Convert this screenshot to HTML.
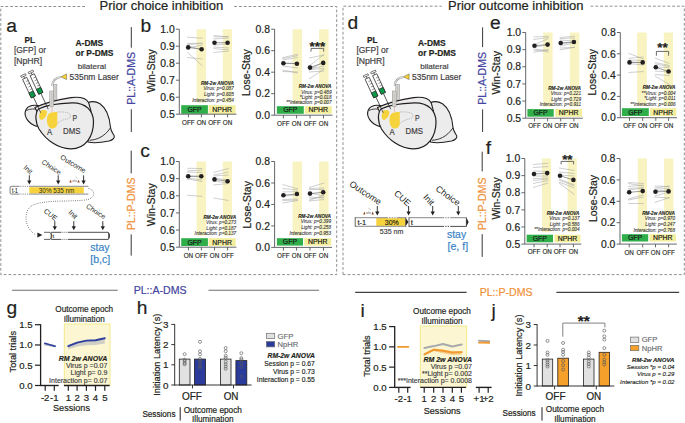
<!DOCTYPE html><html><head><meta charset="utf-8"><style>html,body{margin:0;padding:0;background:#fff;overflow:hidden;}svg{display:block;}text{font-family:"Liberation Sans", sans-serif;}</style></head><body>
<svg width="685" height="423" viewBox="0 0 685 423">
<rect width="685" height="423" fill="#fff"/>
<path d="M 85 6.5 L 0.8 6.5 L 0.8 274.6 L 336.7 274.6 L 336.7 6.5 L 232.3 6.5" stroke="#808285" stroke-width="0.9" stroke-dasharray="2.8 2" fill="none"/>
<path d="M 343 274.6 L 343 6.2 L 441.7 6.2" stroke="#808285" stroke-width="0.9" stroke-dasharray="2.8 2" fill="none"/>
<path d="M 590.6 6.2 L 684.3 6.2 L 684.3 274.6 L 343 274.6" stroke="#808285" stroke-width="0.9" stroke-dasharray="2.8 2" fill="none"/>
<text x="99.60" y="10.30" font-size="12.3" text-anchor="start" fill="#231f20" font-weight="normal" font-style="normal" textLength="123.60" lengthAdjust="spacingAndGlyphs"  stroke="#231f20" stroke-width="0.200">Prior choice inhibition</text>
<text x="448.00" y="10.30" font-size="12.3" text-anchor="start" fill="#231f20" font-weight="normal" font-style="normal" textLength="135.50" lengthAdjust="spacingAndGlyphs"  stroke="#231f20" stroke-width="0.200">Prior outcome inhibition</text>
<rect x="196.60" y="29.20" width="9.40" height="73.50" fill="#f8f3c1" stroke="none" stroke-width="0" />
<rect x="222.80" y="29.20" width="9.20" height="73.50" fill="#f8f3c1" stroke="none" stroke-width="0" />
<line x1="187.20" y1="37.20" x2="202.60" y2="38.20" stroke="#9d9fa2" stroke-width="0.5" />
<line x1="187.20" y1="43.60" x2="202.60" y2="43.00" stroke="#9d9fa2" stroke-width="0.5" />
<line x1="187.20" y1="44.50" x2="202.60" y2="43.50" stroke="#9d9fa2" stroke-width="0.5" />
<line x1="187.20" y1="46.00" x2="202.60" y2="49.50" stroke="#9d9fa2" stroke-width="0.5" />
<line x1="187.20" y1="48.00" x2="202.60" y2="45.00" stroke="#9d9fa2" stroke-width="0.5" />
<line x1="187.20" y1="52.20" x2="202.60" y2="66.00" stroke="#9d9fa2" stroke-width="0.5" />
<line x1="187.20" y1="57.50" x2="202.60" y2="59.00" stroke="#9d9fa2" stroke-width="0.5" />
<line x1="213.50" y1="35.50" x2="228.60" y2="37.00" stroke="#9d9fa2" stroke-width="0.5" />
<line x1="213.50" y1="37.00" x2="228.60" y2="36.50" stroke="#9d9fa2" stroke-width="0.5" />
<line x1="213.50" y1="39.00" x2="228.60" y2="38.00" stroke="#9d9fa2" stroke-width="0.5" />
<line x1="213.50" y1="45.00" x2="228.60" y2="44.00" stroke="#9d9fa2" stroke-width="0.5" />
<line x1="213.50" y1="47.00" x2="228.60" y2="48.00" stroke="#9d9fa2" stroke-width="0.5" />
<line x1="213.50" y1="48.50" x2="228.60" y2="50.00" stroke="#9d9fa2" stroke-width="0.5" />
<line x1="213.50" y1="52.50" x2="228.60" y2="51.00" stroke="#9d9fa2" stroke-width="0.5" />
<line x1="188.20" y1="47.40" x2="201.60" y2="49.30" stroke="#58595b" stroke-width="0.6" />
<circle cx="188.20" cy="47.40" r="2.3" fill="#231f20"/>
<circle cx="201.60" cy="49.30" r="2.3" fill="#231f20"/>
<line x1="214.50" y1="42.70" x2="227.60" y2="42.70" stroke="#58595b" stroke-width="0.6" />
<circle cx="214.50" cy="42.70" r="2.3" fill="#231f20"/>
<circle cx="227.60" cy="42.70" r="2.3" fill="#231f20"/>
<text x="233.80" y="84.60" font-size="4.7" text-anchor="end" fill="#231f20" font-weight="bold" font-style="italic"  stroke="#231f20" stroke-width="0.104">RM-2w ANOVA</text>
<text x="233.80" y="90.40" font-size="4.7" text-anchor="end" fill="#3a3a3c" font-weight="normal" font-style="italic"  stroke="#3a3a3c" stroke-width="0.104">Virus: p=0.087</text>
<text x="233.80" y="96.00" font-size="4.7" text-anchor="end" fill="#3a3a3c" font-weight="normal" font-style="italic"  stroke="#3a3a3c" stroke-width="0.104">Light: p=0.605</text>
<text x="233.80" y="101.70" font-size="4.7" text-anchor="end" fill="#3a3a3c" font-weight="normal" font-style="italic"  stroke="#3a3a3c" stroke-width="0.104">Interaction: p=0.454</text>
<rect x="181.20" y="105.20" width="26.70" height="8.60" fill="#2fae4a" stroke="none" stroke-width="0" />
<rect x="208.60" y="105.20" width="27.00" height="8.60" fill="#f3ee9c" stroke="none" stroke-width="0" />
<text x="194.55" y="112.40" font-size="6.9" text-anchor="middle" fill="#1a1a1a" font-weight="normal" font-style="normal" stroke="#1a1a1a" stroke-width="0.2">GFP</text>
<text x="222.10" y="112.40" font-size="6.9" text-anchor="middle" fill="#1a1a1a" font-weight="normal" font-style="normal" stroke="#1a1a1a" stroke-width="0.2">NPHR</text>
<line x1="179.30" y1="29.20" x2="179.30" y2="114.20" stroke="#55565a" stroke-width="0.9" />
<line x1="175.90" y1="29.20" x2="179.30" y2="29.20" stroke="#55565a" stroke-width="0.9" />
<text x="174.70" y="32.90" font-size="10.4" text-anchor="end" fill="#231f20" font-weight="normal" font-style="normal"  stroke="#231f20" stroke-width="0.200">1.0</text>
<line x1="175.90" y1="46.20" x2="179.30" y2="46.20" stroke="#55565a" stroke-width="0.9" />
<text x="174.70" y="49.90" font-size="10.4" text-anchor="end" fill="#231f20" font-weight="normal" font-style="normal"  stroke="#231f20" stroke-width="0.200">0.9</text>
<line x1="175.90" y1="63.20" x2="179.30" y2="63.20" stroke="#55565a" stroke-width="0.9" />
<text x="174.70" y="66.90" font-size="10.4" text-anchor="end" fill="#231f20" font-weight="normal" font-style="normal"  stroke="#231f20" stroke-width="0.200">0.8</text>
<line x1="175.90" y1="80.20" x2="179.30" y2="80.20" stroke="#55565a" stroke-width="0.9" />
<text x="174.70" y="83.90" font-size="10.4" text-anchor="end" fill="#231f20" font-weight="normal" font-style="normal"  stroke="#231f20" stroke-width="0.200">0.7</text>
<line x1="175.90" y1="97.20" x2="179.30" y2="97.20" stroke="#55565a" stroke-width="0.9" />
<text x="174.70" y="100.90" font-size="10.4" text-anchor="end" fill="#231f20" font-weight="normal" font-style="normal"  stroke="#231f20" stroke-width="0.200">0.6</text>
<line x1="175.90" y1="114.20" x2="179.30" y2="114.20" stroke="#55565a" stroke-width="0.9" />
<text x="174.70" y="117.90" font-size="10.4" text-anchor="end" fill="#231f20" font-weight="normal" font-style="normal"  stroke="#231f20" stroke-width="0.200">0.5</text>
<line x1="179.30" y1="114.20" x2="236.40" y2="114.20" stroke="#55565a" stroke-width="0.9" />
<line x1="188.40" y1="114.20" x2="188.40" y2="117.40" stroke="#55565a" stroke-width="0.9" />
<line x1="201.40" y1="114.20" x2="201.40" y2="117.40" stroke="#55565a" stroke-width="0.9" />
<line x1="214.50" y1="114.20" x2="214.50" y2="117.40" stroke="#55565a" stroke-width="0.9" />
<line x1="227.60" y1="114.20" x2="227.60" y2="117.40" stroke="#55565a" stroke-width="0.9" />
<text x="188.40" y="124.70" font-size="6.3" text-anchor="middle" fill="#231f20" font-weight="normal" font-style="normal"  stroke="#231f20" stroke-width="0.140">OFF</text>
<text x="201.40" y="124.70" font-size="6.3" text-anchor="middle" fill="#231f20" font-weight="normal" font-style="normal"  stroke="#231f20" stroke-width="0.140">ON</text>
<text x="214.50" y="124.70" font-size="6.3" text-anchor="middle" fill="#231f20" font-weight="normal" font-style="normal"  stroke="#231f20" stroke-width="0.140">OFF</text>
<text x="227.60" y="124.70" font-size="6.3" text-anchor="middle" fill="#231f20" font-weight="normal" font-style="normal"  stroke="#231f20" stroke-width="0.140">ON</text>
<rect x="292.60" y="29.20" width="9.40" height="74.50" fill="#f8f3c1" stroke="none" stroke-width="0" />
<rect x="319.10" y="29.20" width="9.50" height="74.50" fill="#f8f3c1" stroke="none" stroke-width="0" />
<line x1="282.40" y1="57.70" x2="297.90" y2="54.20" stroke="#9d9fa2" stroke-width="0.5" />
<line x1="282.40" y1="58.80" x2="297.90" y2="55.50" stroke="#9d9fa2" stroke-width="0.5" />
<line x1="282.40" y1="60.00" x2="297.90" y2="57.50" stroke="#9d9fa2" stroke-width="0.5" />
<line x1="282.40" y1="63.50" x2="297.90" y2="63.00" stroke="#9d9fa2" stroke-width="0.5" />
<line x1="282.40" y1="66.00" x2="297.90" y2="68.00" stroke="#9d9fa2" stroke-width="0.5" />
<line x1="282.40" y1="71.50" x2="297.90" y2="72.00" stroke="#9d9fa2" stroke-width="0.5" />
<line x1="282.40" y1="70.00" x2="297.90" y2="73.00" stroke="#9d9fa2" stroke-width="0.5" />
<line x1="309.00" y1="58.00" x2="324.20" y2="55.00" stroke="#9d9fa2" stroke-width="0.5" />
<line x1="309.00" y1="66.00" x2="324.20" y2="54.50" stroke="#9d9fa2" stroke-width="0.5" />
<line x1="309.00" y1="69.00" x2="324.20" y2="66.00" stroke="#9d9fa2" stroke-width="0.5" />
<line x1="309.00" y1="69.50" x2="324.20" y2="68.50" stroke="#9d9fa2" stroke-width="0.5" />
<line x1="309.00" y1="70.50" x2="324.20" y2="61.00" stroke="#9d9fa2" stroke-width="0.5" />
<line x1="309.00" y1="72.00" x2="324.20" y2="71.00" stroke="#9d9fa2" stroke-width="0.5" />
<line x1="309.00" y1="79.00" x2="324.20" y2="69.00" stroke="#9d9fa2" stroke-width="0.5" />
<line x1="283.40" y1="63.20" x2="296.90" y2="63.70" stroke="#58595b" stroke-width="0.6" />
<circle cx="283.40" cy="63.20" r="2.3" fill="#231f20"/>
<circle cx="296.90" cy="63.70" r="2.3" fill="#231f20"/>
<line x1="310.00" y1="67.60" x2="323.20" y2="62.90" stroke="#58595b" stroke-width="0.6" />
<circle cx="310.00" cy="67.60" r="2.3" fill="#231f20"/>
<circle cx="323.20" cy="62.90" r="2.3" fill="#231f20"/>
<text x="331.50" y="87.90" font-size="4.7" text-anchor="end" fill="#231f20" font-weight="bold" font-style="italic"  stroke="#231f20" stroke-width="0.104">RM-2w ANOVA</text>
<text x="331.50" y="93.50" font-size="4.7" text-anchor="end" fill="#3a3a3c" font-weight="normal" font-style="italic"  stroke="#3a3a3c" stroke-width="0.104">Virus: p=0.489</text>
<text x="331.50" y="99.00" font-size="4.7" text-anchor="end" fill="#3a3a3c" font-weight="normal" font-style="italic"  stroke="#3a3a3c" stroke-width="0.104">*Light: p=0.018</text>
<text x="331.50" y="104.30" font-size="4.7" text-anchor="end" fill="#3a3a3c" font-weight="normal" font-style="italic"  stroke="#3a3a3c" stroke-width="0.104">**Interaction: p=0.007</text>
<rect x="276.90" y="106.20" width="26.90" height="7.60" fill="#2fae4a" stroke="none" stroke-width="0" />
<rect x="304.70" y="106.20" width="27.00" height="7.60" fill="#f3ee9c" stroke="none" stroke-width="0" />
<text x="290.35" y="112.40" font-size="6.9" text-anchor="middle" fill="#1a1a1a" font-weight="normal" font-style="normal" stroke="#1a1a1a" stroke-width="0.2">GFP</text>
<text x="318.20" y="112.40" font-size="6.9" text-anchor="middle" fill="#1a1a1a" font-weight="normal" font-style="normal" stroke="#1a1a1a" stroke-width="0.2">NPHR</text>
<line x1="274.60" y1="29.20" x2="274.60" y2="115.20" stroke="#55565a" stroke-width="0.9" />
<line x1="271.20" y1="29.20" x2="274.60" y2="29.20" stroke="#55565a" stroke-width="0.9" />
<text x="270.00" y="32.90" font-size="10.4" text-anchor="end" fill="#231f20" font-weight="normal" font-style="normal"  stroke="#231f20" stroke-width="0.200">0.8</text>
<line x1="271.20" y1="50.70" x2="274.60" y2="50.70" stroke="#55565a" stroke-width="0.9" />
<text x="270.00" y="54.40" font-size="10.4" text-anchor="end" fill="#231f20" font-weight="normal" font-style="normal"  stroke="#231f20" stroke-width="0.200">0.6</text>
<line x1="271.20" y1="72.20" x2="274.60" y2="72.20" stroke="#55565a" stroke-width="0.9" />
<text x="270.00" y="75.90" font-size="10.4" text-anchor="end" fill="#231f20" font-weight="normal" font-style="normal"  stroke="#231f20" stroke-width="0.200">0.4</text>
<line x1="271.20" y1="93.70" x2="274.60" y2="93.70" stroke="#55565a" stroke-width="0.9" />
<text x="270.00" y="97.40" font-size="10.4" text-anchor="end" fill="#231f20" font-weight="normal" font-style="normal"  stroke="#231f20" stroke-width="0.200">0.2</text>
<line x1="271.20" y1="115.20" x2="274.60" y2="115.20" stroke="#55565a" stroke-width="0.9" />
<text x="270.00" y="118.90" font-size="10.4" text-anchor="end" fill="#231f20" font-weight="normal" font-style="normal"  stroke="#231f20" stroke-width="0.200">0.0</text>
<line x1="274.60" y1="115.20" x2="332.50" y2="115.20" stroke="#55565a" stroke-width="0.9" />
<line x1="283.40" y1="115.20" x2="283.40" y2="118.40" stroke="#55565a" stroke-width="0.9" />
<line x1="296.60" y1="115.20" x2="296.60" y2="118.40" stroke="#55565a" stroke-width="0.9" />
<line x1="310.00" y1="115.20" x2="310.00" y2="118.40" stroke="#55565a" stroke-width="0.9" />
<line x1="323.50" y1="115.20" x2="323.50" y2="118.40" stroke="#55565a" stroke-width="0.9" />
<text x="283.40" y="125.50" font-size="6.3" text-anchor="middle" fill="#231f20" font-weight="normal" font-style="normal"  stroke="#231f20" stroke-width="0.140">OFF</text>
<text x="296.60" y="125.50" font-size="6.3" text-anchor="middle" fill="#231f20" font-weight="normal" font-style="normal"  stroke="#231f20" stroke-width="0.140">ON</text>
<text x="310.00" y="125.50" font-size="6.3" text-anchor="middle" fill="#231f20" font-weight="normal" font-style="normal"  stroke="#231f20" stroke-width="0.140">OFF</text>
<text x="323.50" y="125.50" font-size="6.3" text-anchor="middle" fill="#231f20" font-weight="normal" font-style="normal"  stroke="#231f20" stroke-width="0.140">ON</text>
<polyline points="311.00,51.60 311.00,48.40 323.70,48.40 323.70,51.60" fill="none" stroke="#58595b" stroke-width="0.9"/>
<text x="317.35" y="51.00" font-size="13.4" text-anchor="middle" fill="#231f20" font-weight="bold" font-style="normal"  stroke="#231f20" stroke-width="0.200">***</text>
<rect x="196.60" y="161.50" width="9.40" height="74.20" fill="#f8f3c1" stroke="none" stroke-width="0" />
<rect x="222.80" y="161.50" width="9.20" height="74.20" fill="#f8f3c1" stroke="none" stroke-width="0" />
<line x1="187.20" y1="168.30" x2="202.30" y2="168.50" stroke="#9d9fa2" stroke-width="0.5" />
<line x1="187.20" y1="171.00" x2="202.30" y2="170.00" stroke="#9d9fa2" stroke-width="0.5" />
<line x1="187.20" y1="172.00" x2="202.30" y2="172.50" stroke="#9d9fa2" stroke-width="0.5" />
<line x1="187.20" y1="176.00" x2="202.30" y2="177.00" stroke="#9d9fa2" stroke-width="0.5" />
<line x1="187.20" y1="178.00" x2="202.30" y2="180.00" stroke="#9d9fa2" stroke-width="0.5" />
<line x1="187.20" y1="179.00" x2="202.30" y2="181.50" stroke="#9d9fa2" stroke-width="0.5" />
<line x1="187.20" y1="195.20" x2="202.30" y2="196.40" stroke="#9d9fa2" stroke-width="0.5" />
<line x1="213.50" y1="172.50" x2="228.60" y2="168.50" stroke="#9d9fa2" stroke-width="0.5" />
<line x1="213.50" y1="175.00" x2="228.60" y2="172.00" stroke="#9d9fa2" stroke-width="0.5" />
<line x1="213.50" y1="176.00" x2="228.60" y2="175.00" stroke="#9d9fa2" stroke-width="0.5" />
<line x1="213.50" y1="178.00" x2="228.60" y2="180.00" stroke="#9d9fa2" stroke-width="0.5" />
<line x1="213.50" y1="181.00" x2="228.60" y2="183.00" stroke="#9d9fa2" stroke-width="0.5" />
<line x1="213.50" y1="185.00" x2="228.60" y2="183.50" stroke="#9d9fa2" stroke-width="0.5" />
<line x1="213.50" y1="198.00" x2="228.60" y2="200.50" stroke="#9d9fa2" stroke-width="0.5" />
<line x1="188.20" y1="176.20" x2="201.30" y2="176.20" stroke="#58595b" stroke-width="0.6" />
<circle cx="188.20" cy="176.20" r="2.3" fill="#231f20"/>
<circle cx="201.30" cy="176.20" r="2.3" fill="#231f20"/>
<line x1="214.50" y1="179.40" x2="227.60" y2="181.20" stroke="#58595b" stroke-width="0.6" />
<circle cx="214.50" cy="179.40" r="2.3" fill="#231f20"/>
<circle cx="227.60" cy="181.20" r="2.3" fill="#231f20"/>
<text x="236.20" y="218.50" font-size="4.7" text-anchor="end" fill="#231f20" font-weight="bold" font-style="italic"  stroke="#231f20" stroke-width="0.104">RM-2w ANOVA</text>
<text x="236.20" y="224.10" font-size="4.7" text-anchor="end" fill="#3a3a3c" font-weight="normal" font-style="italic"  stroke="#3a3a3c" stroke-width="0.104">Virus: p=0.273</text>
<text x="236.20" y="229.70" font-size="4.7" text-anchor="end" fill="#3a3a3c" font-weight="normal" font-style="italic"  stroke="#3a3a3c" stroke-width="0.104">Light: p=0.187</text>
<text x="236.20" y="235.30" font-size="4.7" text-anchor="end" fill="#3a3a3c" font-weight="normal" font-style="italic"  stroke="#3a3a3c" stroke-width="0.104">Interaction: p=0.137</text>
<rect x="181.20" y="238.20" width="26.70" height="7.80" fill="#2fae4a" stroke="none" stroke-width="0" />
<rect x="208.60" y="238.20" width="27.00" height="7.80" fill="#f3ee9c" stroke="none" stroke-width="0" />
<text x="194.55" y="244.60" font-size="6.9" text-anchor="middle" fill="#1a1a1a" font-weight="normal" font-style="normal" stroke="#1a1a1a" stroke-width="0.2">GFP</text>
<text x="222.10" y="244.60" font-size="6.9" text-anchor="middle" fill="#1a1a1a" font-weight="normal" font-style="normal" stroke="#1a1a1a" stroke-width="0.2">NPHR</text>
<line x1="179.30" y1="161.50" x2="179.30" y2="247.20" stroke="#55565a" stroke-width="0.9" />
<line x1="175.90" y1="161.50" x2="179.30" y2="161.50" stroke="#55565a" stroke-width="0.9" />
<text x="174.70" y="165.20" font-size="10.4" text-anchor="end" fill="#231f20" font-weight="normal" font-style="normal"  stroke="#231f20" stroke-width="0.200">1.0</text>
<line x1="175.90" y1="178.64" x2="179.30" y2="178.64" stroke="#55565a" stroke-width="0.9" />
<text x="174.70" y="182.34" font-size="10.4" text-anchor="end" fill="#231f20" font-weight="normal" font-style="normal"  stroke="#231f20" stroke-width="0.200">0.9</text>
<line x1="175.90" y1="195.78" x2="179.30" y2="195.78" stroke="#55565a" stroke-width="0.9" />
<text x="174.70" y="199.48" font-size="10.4" text-anchor="end" fill="#231f20" font-weight="normal" font-style="normal"  stroke="#231f20" stroke-width="0.200">0.8</text>
<line x1="175.90" y1="212.92" x2="179.30" y2="212.92" stroke="#55565a" stroke-width="0.9" />
<text x="174.70" y="216.62" font-size="10.4" text-anchor="end" fill="#231f20" font-weight="normal" font-style="normal"  stroke="#231f20" stroke-width="0.200">0.7</text>
<line x1="175.90" y1="230.06" x2="179.30" y2="230.06" stroke="#55565a" stroke-width="0.9" />
<text x="174.70" y="233.76" font-size="10.4" text-anchor="end" fill="#231f20" font-weight="normal" font-style="normal"  stroke="#231f20" stroke-width="0.200">0.6</text>
<line x1="175.90" y1="247.20" x2="179.30" y2="247.20" stroke="#55565a" stroke-width="0.9" />
<text x="174.70" y="250.90" font-size="10.4" text-anchor="end" fill="#231f20" font-weight="normal" font-style="normal"  stroke="#231f20" stroke-width="0.200">0.5</text>
<line x1="179.30" y1="247.20" x2="236.40" y2="247.20" stroke="#55565a" stroke-width="0.9" />
<line x1="188.40" y1="247.20" x2="188.40" y2="250.40" stroke="#55565a" stroke-width="0.9" />
<line x1="201.40" y1="247.20" x2="201.40" y2="250.40" stroke="#55565a" stroke-width="0.9" />
<line x1="214.50" y1="247.20" x2="214.50" y2="250.40" stroke="#55565a" stroke-width="0.9" />
<line x1="227.60" y1="247.20" x2="227.60" y2="250.40" stroke="#55565a" stroke-width="0.9" />
<text x="188.40" y="257.70" font-size="6.3" text-anchor="middle" fill="#231f20" font-weight="normal" font-style="normal"  stroke="#231f20" stroke-width="0.140">ON</text>
<text x="201.40" y="257.70" font-size="6.3" text-anchor="middle" fill="#231f20" font-weight="normal" font-style="normal"  stroke="#231f20" stroke-width="0.140">OFF</text>
<text x="214.50" y="257.70" font-size="6.3" text-anchor="middle" fill="#231f20" font-weight="normal" font-style="normal"  stroke="#231f20" stroke-width="0.140">ON</text>
<text x="227.60" y="257.70" font-size="6.3" text-anchor="middle" fill="#231f20" font-weight="normal" font-style="normal"  stroke="#231f20" stroke-width="0.140">OFF</text>
<rect x="292.60" y="161.50" width="9.40" height="74.20" fill="#f8f3c1" stroke="none" stroke-width="0" />
<rect x="319.10" y="161.50" width="9.50" height="74.20" fill="#f8f3c1" stroke="none" stroke-width="0" />
<line x1="282.40" y1="184.50" x2="297.90" y2="188.80" stroke="#9d9fa2" stroke-width="0.5" />
<line x1="282.40" y1="188.50" x2="297.90" y2="190.00" stroke="#9d9fa2" stroke-width="0.5" />
<line x1="282.40" y1="192.00" x2="297.90" y2="191.50" stroke="#9d9fa2" stroke-width="0.5" />
<line x1="282.40" y1="196.00" x2="297.90" y2="195.00" stroke="#9d9fa2" stroke-width="0.5" />
<line x1="282.40" y1="199.50" x2="297.90" y2="199.00" stroke="#9d9fa2" stroke-width="0.5" />
<line x1="282.40" y1="200.50" x2="297.90" y2="200.00" stroke="#9d9fa2" stroke-width="0.5" />
<line x1="282.40" y1="203.00" x2="297.90" y2="200.50" stroke="#9d9fa2" stroke-width="0.5" />
<line x1="309.00" y1="187.50" x2="324.20" y2="183.00" stroke="#9d9fa2" stroke-width="0.5" />
<line x1="309.00" y1="188.50" x2="324.20" y2="188.00" stroke="#9d9fa2" stroke-width="0.5" />
<line x1="309.00" y1="189.50" x2="324.20" y2="189.50" stroke="#9d9fa2" stroke-width="0.5" />
<line x1="309.00" y1="193.00" x2="324.20" y2="196.00" stroke="#9d9fa2" stroke-width="0.5" />
<line x1="309.00" y1="197.00" x2="324.20" y2="198.00" stroke="#9d9fa2" stroke-width="0.5" />
<line x1="309.00" y1="199.00" x2="324.20" y2="197.00" stroke="#9d9fa2" stroke-width="0.5" />
<line x1="309.00" y1="200.50" x2="324.20" y2="195.00" stroke="#9d9fa2" stroke-width="0.5" />
<line x1="309.00" y1="201.00" x2="324.20" y2="199.50" stroke="#9d9fa2" stroke-width="0.5" />
<line x1="283.40" y1="195.20" x2="296.90" y2="194.00" stroke="#58595b" stroke-width="0.6" />
<circle cx="283.40" cy="195.20" r="2.3" fill="#231f20"/>
<circle cx="296.90" cy="194.00" r="2.3" fill="#231f20"/>
<line x1="310.00" y1="193.60" x2="323.20" y2="192.30" stroke="#58595b" stroke-width="0.6" />
<circle cx="310.00" cy="193.60" r="2.3" fill="#231f20"/>
<circle cx="323.20" cy="192.30" r="2.3" fill="#231f20"/>
<text x="331.00" y="217.80" font-size="4.7" text-anchor="end" fill="#231f20" font-weight="bold" font-style="italic"  stroke="#231f20" stroke-width="0.104">RM-2w ANOVA</text>
<text x="331.00" y="223.40" font-size="4.7" text-anchor="end" fill="#3a3a3c" font-weight="normal" font-style="italic"  stroke="#3a3a3c" stroke-width="0.104">Virus: p=0.399</text>
<text x="331.00" y="229.00" font-size="4.7" text-anchor="end" fill="#3a3a3c" font-weight="normal" font-style="italic"  stroke="#3a3a3c" stroke-width="0.104">Light: p=0.258</text>
<text x="331.00" y="234.60" font-size="4.7" text-anchor="end" fill="#3a3a3c" font-weight="normal" font-style="italic"  stroke="#3a3a3c" stroke-width="0.104">Interaction: p=0.953</text>
<rect x="276.90" y="238.20" width="26.10" height="7.40" fill="#2fae4a" stroke="none" stroke-width="0" />
<rect x="304.20" y="238.20" width="27.00" height="7.40" fill="#f3ee9c" stroke="none" stroke-width="0" />
<text x="289.95" y="244.20" font-size="6.9" text-anchor="middle" fill="#1a1a1a" font-weight="normal" font-style="normal" stroke="#1a1a1a" stroke-width="0.2">GFP</text>
<text x="317.70" y="244.20" font-size="6.9" text-anchor="middle" fill="#1a1a1a" font-weight="normal" font-style="normal" stroke="#1a1a1a" stroke-width="0.2">NPHR</text>
<line x1="274.60" y1="161.50" x2="274.60" y2="247.40" stroke="#55565a" stroke-width="0.9" />
<line x1="271.20" y1="161.50" x2="274.60" y2="161.50" stroke="#55565a" stroke-width="0.9" />
<text x="270.00" y="165.20" font-size="10.4" text-anchor="end" fill="#231f20" font-weight="normal" font-style="normal"  stroke="#231f20" stroke-width="0.200">0.8</text>
<line x1="271.20" y1="182.97" x2="274.60" y2="182.97" stroke="#55565a" stroke-width="0.9" />
<text x="270.00" y="186.67" font-size="10.4" text-anchor="end" fill="#231f20" font-weight="normal" font-style="normal"  stroke="#231f20" stroke-width="0.200">0.6</text>
<line x1="271.20" y1="204.45" x2="274.60" y2="204.45" stroke="#55565a" stroke-width="0.9" />
<text x="270.00" y="208.15" font-size="10.4" text-anchor="end" fill="#231f20" font-weight="normal" font-style="normal"  stroke="#231f20" stroke-width="0.200">0.4</text>
<line x1="271.20" y1="225.93" x2="274.60" y2="225.93" stroke="#55565a" stroke-width="0.9" />
<text x="270.00" y="229.62" font-size="10.4" text-anchor="end" fill="#231f20" font-weight="normal" font-style="normal"  stroke="#231f20" stroke-width="0.200">0.2</text>
<line x1="271.20" y1="247.40" x2="274.60" y2="247.40" stroke="#55565a" stroke-width="0.9" />
<text x="270.00" y="251.10" font-size="10.4" text-anchor="end" fill="#231f20" font-weight="normal" font-style="normal"  stroke="#231f20" stroke-width="0.200">0.0</text>
<line x1="274.60" y1="247.40" x2="332.00" y2="247.40" stroke="#55565a" stroke-width="0.9" />
<line x1="283.40" y1="247.40" x2="283.40" y2="250.60" stroke="#55565a" stroke-width="0.9" />
<line x1="296.60" y1="247.40" x2="296.60" y2="250.60" stroke="#55565a" stroke-width="0.9" />
<line x1="310.00" y1="247.40" x2="310.00" y2="250.60" stroke="#55565a" stroke-width="0.9" />
<line x1="323.50" y1="247.40" x2="323.50" y2="250.60" stroke="#55565a" stroke-width="0.9" />
<text x="283.40" y="257.70" font-size="6.3" text-anchor="middle" fill="#231f20" font-weight="normal" font-style="normal"  stroke="#231f20" stroke-width="0.140">OFF</text>
<text x="296.60" y="257.70" font-size="6.3" text-anchor="middle" fill="#231f20" font-weight="normal" font-style="normal"  stroke="#231f20" stroke-width="0.140">ON</text>
<text x="310.00" y="257.70" font-size="6.3" text-anchor="middle" fill="#231f20" font-weight="normal" font-style="normal"  stroke="#231f20" stroke-width="0.140">OFF</text>
<text x="323.50" y="257.70" font-size="6.3" text-anchor="middle" fill="#231f20" font-weight="normal" font-style="normal"  stroke="#231f20" stroke-width="0.140">ON</text>
<rect x="543.10" y="32.50" width="9.50" height="74.10" fill="#f8f3c1" stroke="none" stroke-width="0" />
<rect x="569.80" y="32.50" width="9.50" height="74.10" fill="#f8f3c1" stroke="none" stroke-width="0" />
<line x1="533.50" y1="37.00" x2="548.60" y2="36.30" stroke="#9d9fa2" stroke-width="0.5" />
<line x1="533.50" y1="39.50" x2="548.60" y2="37.50" stroke="#9d9fa2" stroke-width="0.5" />
<line x1="533.50" y1="45.00" x2="548.60" y2="38.50" stroke="#9d9fa2" stroke-width="0.5" />
<line x1="533.50" y1="47.00" x2="548.60" y2="45.00" stroke="#9d9fa2" stroke-width="0.5" />
<line x1="533.50" y1="49.00" x2="548.60" y2="50.50" stroke="#9d9fa2" stroke-width="0.5" />
<line x1="533.50" y1="52.30" x2="548.60" y2="49.50" stroke="#9d9fa2" stroke-width="0.5" />
<line x1="533.50" y1="50.00" x2="548.60" y2="52.00" stroke="#9d9fa2" stroke-width="0.5" />
<line x1="559.70" y1="37.50" x2="574.90" y2="36.20" stroke="#9d9fa2" stroke-width="0.5" />
<line x1="559.70" y1="38.50" x2="574.90" y2="38.00" stroke="#9d9fa2" stroke-width="0.5" />
<line x1="559.70" y1="40.00" x2="574.90" y2="41.00" stroke="#9d9fa2" stroke-width="0.5" />
<line x1="559.70" y1="44.00" x2="574.90" y2="42.00" stroke="#9d9fa2" stroke-width="0.5" />
<line x1="559.70" y1="46.00" x2="574.90" y2="43.00" stroke="#9d9fa2" stroke-width="0.5" />
<line x1="559.70" y1="48.00" x2="574.90" y2="47.50" stroke="#9d9fa2" stroke-width="0.5" />
<line x1="559.70" y1="50.00" x2="574.90" y2="47.00" stroke="#9d9fa2" stroke-width="0.5" />
<line x1="534.50" y1="45.70" x2="547.60" y2="44.60" stroke="#58595b" stroke-width="0.6" />
<circle cx="534.50" cy="45.70" r="2.3" fill="#231f20"/>
<circle cx="547.60" cy="44.60" r="2.3" fill="#231f20"/>
<line x1="560.70" y1="43.00" x2="573.90" y2="42.00" stroke="#58595b" stroke-width="0.6" />
<circle cx="560.70" cy="43.00" r="2.3" fill="#231f20"/>
<circle cx="573.90" cy="42.00" r="2.3" fill="#231f20"/>
<text x="581.00" y="89.70" font-size="4.7" text-anchor="end" fill="#231f20" font-weight="bold" font-style="italic"  stroke="#231f20" stroke-width="0.104">RM-2w ANOVA</text>
<text x="581.00" y="95.40" font-size="4.7" text-anchor="end" fill="#3a3a3c" font-weight="normal" font-style="italic"  stroke="#3a3a3c" stroke-width="0.104">Virus: p=0.221</text>
<text x="581.00" y="100.90" font-size="4.7" text-anchor="end" fill="#3a3a3c" font-weight="normal" font-style="italic"  stroke="#3a3a3c" stroke-width="0.104">Light: p=0.729</text>
<text x="581.00" y="106.40" font-size="4.7" text-anchor="end" fill="#3a3a3c" font-weight="normal" font-style="italic"  stroke="#3a3a3c" stroke-width="0.104">Interaction: p=0.911</text>
<rect x="527.40" y="109.10" width="26.30" height="7.60" fill="#2fae4a" stroke="none" stroke-width="0" />
<rect x="555.20" y="109.10" width="26.80" height="7.60" fill="#f3ee9c" stroke="none" stroke-width="0" />
<text x="540.55" y="115.30" font-size="6.9" text-anchor="middle" fill="#1a1a1a" font-weight="normal" font-style="normal" stroke="#1a1a1a" stroke-width="0.2">GFP</text>
<text x="568.60" y="115.30" font-size="6.9" text-anchor="middle" fill="#1a1a1a" font-weight="normal" font-style="normal" stroke="#1a1a1a" stroke-width="0.2">NPHR</text>
<line x1="525.70" y1="32.50" x2="525.70" y2="118.20" stroke="#55565a" stroke-width="0.9" />
<line x1="522.30" y1="32.50" x2="525.70" y2="32.50" stroke="#55565a" stroke-width="0.9" />
<text x="521.10" y="36.20" font-size="10.4" text-anchor="end" fill="#231f20" font-weight="normal" font-style="normal"  stroke="#231f20" stroke-width="0.200">1.0</text>
<line x1="522.30" y1="49.64" x2="525.70" y2="49.64" stroke="#55565a" stroke-width="0.9" />
<text x="521.10" y="53.34" font-size="10.4" text-anchor="end" fill="#231f20" font-weight="normal" font-style="normal"  stroke="#231f20" stroke-width="0.200">0.9</text>
<line x1="522.30" y1="66.78" x2="525.70" y2="66.78" stroke="#55565a" stroke-width="0.9" />
<text x="521.10" y="70.48" font-size="10.4" text-anchor="end" fill="#231f20" font-weight="normal" font-style="normal"  stroke="#231f20" stroke-width="0.200">0.8</text>
<line x1="522.30" y1="83.92" x2="525.70" y2="83.92" stroke="#55565a" stroke-width="0.9" />
<text x="521.10" y="87.62" font-size="10.4" text-anchor="end" fill="#231f20" font-weight="normal" font-style="normal"  stroke="#231f20" stroke-width="0.200">0.7</text>
<line x1="522.30" y1="101.06" x2="525.70" y2="101.06" stroke="#55565a" stroke-width="0.9" />
<text x="521.10" y="104.76" font-size="10.4" text-anchor="end" fill="#231f20" font-weight="normal" font-style="normal"  stroke="#231f20" stroke-width="0.200">0.6</text>
<line x1="522.30" y1="118.20" x2="525.70" y2="118.20" stroke="#55565a" stroke-width="0.9" />
<text x="521.10" y="121.90" font-size="10.4" text-anchor="end" fill="#231f20" font-weight="normal" font-style="normal"  stroke="#231f20" stroke-width="0.200">0.5</text>
<line x1="525.70" y1="118.20" x2="582.80" y2="118.20" stroke="#55565a" stroke-width="0.9" />
<line x1="534.50" y1="118.20" x2="534.50" y2="121.40" stroke="#55565a" stroke-width="0.9" />
<line x1="547.60" y1="118.20" x2="547.60" y2="121.40" stroke="#55565a" stroke-width="0.9" />
<line x1="560.70" y1="118.20" x2="560.70" y2="121.40" stroke="#55565a" stroke-width="0.9" />
<line x1="573.90" y1="118.20" x2="573.90" y2="121.40" stroke="#55565a" stroke-width="0.9" />
<text x="534.50" y="128.40" font-size="6.3" text-anchor="middle" fill="#231f20" font-weight="normal" font-style="normal"  stroke="#231f20" stroke-width="0.140">OFF</text>
<text x="547.60" y="128.40" font-size="6.3" text-anchor="middle" fill="#231f20" font-weight="normal" font-style="normal"  stroke="#231f20" stroke-width="0.140">ON</text>
<text x="560.70" y="128.40" font-size="6.3" text-anchor="middle" fill="#231f20" font-weight="normal" font-style="normal"  stroke="#231f20" stroke-width="0.140">OFF</text>
<text x="573.90" y="128.40" font-size="6.3" text-anchor="middle" fill="#231f20" font-weight="normal" font-style="normal"  stroke="#231f20" stroke-width="0.140">ON</text>
<rect x="637.10" y="32.50" width="9.70" height="73.20" fill="#f8f3c1" stroke="none" stroke-width="0" />
<rect x="663.80" y="32.50" width="9.20" height="73.20" fill="#f8f3c1" stroke="none" stroke-width="0" />
<line x1="628.50" y1="53.30" x2="643.70" y2="59.00" stroke="#9d9fa2" stroke-width="0.5" />
<line x1="628.50" y1="58.30" x2="643.70" y2="57.00" stroke="#9d9fa2" stroke-width="0.5" />
<line x1="628.50" y1="60.00" x2="643.70" y2="60.50" stroke="#9d9fa2" stroke-width="0.5" />
<line x1="628.50" y1="62.00" x2="643.70" y2="63.00" stroke="#9d9fa2" stroke-width="0.5" />
<line x1="628.50" y1="63.50" x2="643.70" y2="65.00" stroke="#9d9fa2" stroke-width="0.5" />
<line x1="628.50" y1="72.50" x2="643.70" y2="71.50" stroke="#9d9fa2" stroke-width="0.5" />
<line x1="654.80" y1="58.00" x2="669.60" y2="63.50" stroke="#9d9fa2" stroke-width="0.5" />
<line x1="654.80" y1="62.50" x2="669.60" y2="65.50" stroke="#9d9fa2" stroke-width="0.5" />
<line x1="654.80" y1="64.00" x2="669.60" y2="66.50" stroke="#9d9fa2" stroke-width="0.5" />
<line x1="654.80" y1="67.00" x2="669.60" y2="67.50" stroke="#9d9fa2" stroke-width="0.5" />
<line x1="654.80" y1="71.00" x2="669.60" y2="72.00" stroke="#9d9fa2" stroke-width="0.5" />
<line x1="654.80" y1="74.50" x2="669.60" y2="75.50" stroke="#9d9fa2" stroke-width="0.5" />
<line x1="654.80" y1="76.00" x2="669.60" y2="84.50" stroke="#9d9fa2" stroke-width="0.5" />
<line x1="629.50" y1="62.40" x2="642.70" y2="62.40" stroke="#58595b" stroke-width="0.6" />
<circle cx="629.50" cy="62.40" r="2.3" fill="#231f20"/>
<circle cx="642.70" cy="62.40" r="2.3" fill="#231f20"/>
<line x1="655.80" y1="67.30" x2="668.60" y2="71.50" stroke="#58595b" stroke-width="0.6" />
<circle cx="655.80" cy="67.30" r="2.3" fill="#231f20"/>
<circle cx="668.60" cy="71.50" r="2.3" fill="#231f20"/>
<text x="675.50" y="89.00" font-size="4.7" text-anchor="end" fill="#231f20" font-weight="bold" font-style="italic"  stroke="#231f20" stroke-width="0.104">RM-2w ANOVA</text>
<text x="675.50" y="94.60" font-size="4.7" text-anchor="end" fill="#3a3a3c" font-weight="normal" font-style="italic"  stroke="#3a3a3c" stroke-width="0.104">**Virus: p=0.004</text>
<text x="675.50" y="100.20" font-size="4.7" text-anchor="end" fill="#3a3a3c" font-weight="normal" font-style="italic"  stroke="#3a3a3c" stroke-width="0.104">*Light: p=0.011</text>
<text x="675.50" y="105.80" font-size="4.7" text-anchor="end" fill="#3a3a3c" font-weight="normal" font-style="italic"  stroke="#3a3a3c" stroke-width="0.104">**Interaction: p=0.006</text>
<rect x="621.90" y="108.20" width="26.90" height="7.80" fill="#2fae4a" stroke="none" stroke-width="0" />
<rect x="650.00" y="108.20" width="26.20" height="7.80" fill="#f3ee9c" stroke="none" stroke-width="0" />
<text x="635.35" y="114.60" font-size="6.9" text-anchor="middle" fill="#1a1a1a" font-weight="normal" font-style="normal" stroke="#1a1a1a" stroke-width="0.2">GFP</text>
<text x="663.10" y="114.60" font-size="6.9" text-anchor="middle" fill="#1a1a1a" font-weight="normal" font-style="normal" stroke="#1a1a1a" stroke-width="0.2">NPHR</text>
<line x1="620.30" y1="32.50" x2="620.30" y2="117.70" stroke="#55565a" stroke-width="0.9" />
<line x1="616.90" y1="32.50" x2="620.30" y2="32.50" stroke="#55565a" stroke-width="0.9" />
<text x="615.70" y="36.20" font-size="10.4" text-anchor="end" fill="#231f20" font-weight="normal" font-style="normal"  stroke="#231f20" stroke-width="0.200">0.8</text>
<line x1="616.90" y1="53.80" x2="620.30" y2="53.80" stroke="#55565a" stroke-width="0.9" />
<text x="615.70" y="57.50" font-size="10.4" text-anchor="end" fill="#231f20" font-weight="normal" font-style="normal"  stroke="#231f20" stroke-width="0.200">0.6</text>
<line x1="616.90" y1="75.10" x2="620.30" y2="75.10" stroke="#55565a" stroke-width="0.9" />
<text x="615.70" y="78.80" font-size="10.4" text-anchor="end" fill="#231f20" font-weight="normal" font-style="normal"  stroke="#231f20" stroke-width="0.200">0.4</text>
<line x1="616.90" y1="96.40" x2="620.30" y2="96.40" stroke="#55565a" stroke-width="0.9" />
<text x="615.70" y="100.10" font-size="10.4" text-anchor="end" fill="#231f20" font-weight="normal" font-style="normal"  stroke="#231f20" stroke-width="0.200">0.2</text>
<line x1="616.90" y1="117.70" x2="620.30" y2="117.70" stroke="#55565a" stroke-width="0.9" />
<text x="615.70" y="121.40" font-size="10.4" text-anchor="end" fill="#231f20" font-weight="normal" font-style="normal"  stroke="#231f20" stroke-width="0.200">0.0</text>
<line x1="620.30" y1="117.70" x2="677.00" y2="117.70" stroke="#55565a" stroke-width="0.9" />
<line x1="629.50" y1="117.70" x2="629.50" y2="120.90" stroke="#55565a" stroke-width="0.9" />
<line x1="642.70" y1="117.70" x2="642.70" y2="120.90" stroke="#55565a" stroke-width="0.9" />
<line x1="655.80" y1="117.70" x2="655.80" y2="120.90" stroke="#55565a" stroke-width="0.9" />
<line x1="668.60" y1="117.70" x2="668.60" y2="120.90" stroke="#55565a" stroke-width="0.9" />
<text x="629.50" y="128.40" font-size="6.3" text-anchor="middle" fill="#231f20" font-weight="normal" font-style="normal"  stroke="#231f20" stroke-width="0.140">OFF</text>
<text x="642.70" y="128.40" font-size="6.3" text-anchor="middle" fill="#231f20" font-weight="normal" font-style="normal"  stroke="#231f20" stroke-width="0.140">ON</text>
<text x="655.80" y="128.40" font-size="6.3" text-anchor="middle" fill="#231f20" font-weight="normal" font-style="normal"  stroke="#231f20" stroke-width="0.140">OFF</text>
<text x="668.60" y="128.40" font-size="6.3" text-anchor="middle" fill="#231f20" font-weight="normal" font-style="normal"  stroke="#231f20" stroke-width="0.140">ON</text>
<polyline points="656.40,55.70 656.40,51.40 668.60,51.40 668.60,55.70" fill="none" stroke="#58595b" stroke-width="0.9"/>
<text x="662.50" y="51.80" font-size="13.4" text-anchor="middle" fill="#231f20" font-weight="bold" font-style="normal"  stroke="#231f20" stroke-width="0.200">**</text>
<rect x="542.00" y="158.50" width="9.10" height="73.70" fill="#f8f3c1" stroke="none" stroke-width="0" />
<rect x="567.60" y="158.50" width="9.20" height="73.70" fill="#f8f3c1" stroke="none" stroke-width="0" />
<line x1="533.00" y1="164.50" x2="548.20" y2="163.30" stroke="#9d9fa2" stroke-width="0.5" />
<line x1="533.00" y1="167.50" x2="548.20" y2="166.50" stroke="#9d9fa2" stroke-width="0.5" />
<line x1="533.00" y1="171.00" x2="548.20" y2="171.50" stroke="#9d9fa2" stroke-width="0.5" />
<line x1="533.00" y1="176.00" x2="548.20" y2="176.00" stroke="#9d9fa2" stroke-width="0.5" />
<line x1="533.00" y1="178.50" x2="548.20" y2="178.00" stroke="#9d9fa2" stroke-width="0.5" />
<line x1="533.00" y1="180.50" x2="548.20" y2="179.00" stroke="#9d9fa2" stroke-width="0.5" />
<line x1="533.00" y1="183.50" x2="548.20" y2="180.50" stroke="#9d9fa2" stroke-width="0.5" />
<line x1="533.00" y1="187.50" x2="548.20" y2="183.00" stroke="#9d9fa2" stroke-width="0.5" />
<line x1="559.00" y1="168.00" x2="574.40" y2="170.50" stroke="#9d9fa2" stroke-width="0.5" />
<line x1="559.00" y1="172.00" x2="574.40" y2="173.50" stroke="#9d9fa2" stroke-width="0.5" />
<line x1="559.00" y1="175.00" x2="574.40" y2="176.00" stroke="#9d9fa2" stroke-width="0.5" />
<line x1="559.00" y1="179.00" x2="574.40" y2="185.00" stroke="#9d9fa2" stroke-width="0.5" />
<line x1="559.00" y1="180.00" x2="574.40" y2="186.00" stroke="#9d9fa2" stroke-width="0.5" />
<line x1="559.00" y1="182.00" x2="574.40" y2="188.00" stroke="#9d9fa2" stroke-width="0.5" />
<line x1="559.00" y1="183.00" x2="574.40" y2="194.50" stroke="#9d9fa2" stroke-width="0.5" />
<line x1="534.00" y1="174.00" x2="547.20" y2="173.10" stroke="#58595b" stroke-width="0.6" />
<circle cx="534.00" cy="174.00" r="2.3" fill="#231f20"/>
<circle cx="547.20" cy="173.10" r="2.3" fill="#231f20"/>
<line x1="560.00" y1="175.80" x2="573.40" y2="179.90" stroke="#58595b" stroke-width="0.6" />
<circle cx="560.00" cy="175.80" r="2.3" fill="#231f20"/>
<circle cx="573.40" cy="179.90" r="2.3" fill="#231f20"/>
<text x="579.50" y="214.50" font-size="4.7" text-anchor="end" fill="#231f20" font-weight="bold" font-style="italic"  stroke="#231f20" stroke-width="0.104">RM-2w ANOVA</text>
<text x="579.50" y="220.10" font-size="4.7" text-anchor="end" fill="#3a3a3c" font-weight="normal" font-style="italic"  stroke="#3a3a3c" stroke-width="0.104">Virus: p=0.137</text>
<text x="579.50" y="225.70" font-size="4.7" text-anchor="end" fill="#3a3a3c" font-weight="normal" font-style="italic"  stroke="#3a3a3c" stroke-width="0.104">Light: p=0.586</text>
<text x="579.50" y="231.30" font-size="4.7" text-anchor="end" fill="#3a3a3c" font-weight="normal" font-style="italic"  stroke="#3a3a3c" stroke-width="0.104">**Interaction: p=0.004</text>
<rect x="526.70" y="234.70" width="26.30" height="7.60" fill="#2fae4a" stroke="none" stroke-width="0" />
<rect x="554.50" y="234.70" width="26.00" height="7.60" fill="#f3ee9c" stroke="none" stroke-width="0" />
<text x="539.85" y="240.90" font-size="6.9" text-anchor="middle" fill="#1a1a1a" font-weight="normal" font-style="normal" stroke="#1a1a1a" stroke-width="0.2">GFP</text>
<text x="567.50" y="240.90" font-size="6.9" text-anchor="middle" fill="#1a1a1a" font-weight="normal" font-style="normal" stroke="#1a1a1a" stroke-width="0.2">NPHR</text>
<line x1="524.80" y1="158.50" x2="524.80" y2="244.10" stroke="#55565a" stroke-width="0.9" />
<line x1="521.40" y1="158.50" x2="524.80" y2="158.50" stroke="#55565a" stroke-width="0.9" />
<text x="520.20" y="162.20" font-size="10.4" text-anchor="end" fill="#231f20" font-weight="normal" font-style="normal"  stroke="#231f20" stroke-width="0.200">1.0</text>
<line x1="521.40" y1="175.62" x2="524.80" y2="175.62" stroke="#55565a" stroke-width="0.9" />
<text x="520.20" y="179.32" font-size="10.4" text-anchor="end" fill="#231f20" font-weight="normal" font-style="normal"  stroke="#231f20" stroke-width="0.200">0.9</text>
<line x1="521.40" y1="192.74" x2="524.80" y2="192.74" stroke="#55565a" stroke-width="0.9" />
<text x="520.20" y="196.44" font-size="10.4" text-anchor="end" fill="#231f20" font-weight="normal" font-style="normal"  stroke="#231f20" stroke-width="0.200">0.8</text>
<line x1="521.40" y1="209.86" x2="524.80" y2="209.86" stroke="#55565a" stroke-width="0.9" />
<text x="520.20" y="213.56" font-size="10.4" text-anchor="end" fill="#231f20" font-weight="normal" font-style="normal"  stroke="#231f20" stroke-width="0.200">0.7</text>
<line x1="521.40" y1="226.98" x2="524.80" y2="226.98" stroke="#55565a" stroke-width="0.9" />
<text x="520.20" y="230.68" font-size="10.4" text-anchor="end" fill="#231f20" font-weight="normal" font-style="normal"  stroke="#231f20" stroke-width="0.200">0.6</text>
<line x1="521.40" y1="244.10" x2="524.80" y2="244.10" stroke="#55565a" stroke-width="0.9" />
<text x="520.20" y="247.80" font-size="10.4" text-anchor="end" fill="#231f20" font-weight="normal" font-style="normal"  stroke="#231f20" stroke-width="0.200">0.5</text>
<line x1="524.80" y1="244.10" x2="581.30" y2="244.10" stroke="#55565a" stroke-width="0.9" />
<line x1="534.00" y1="244.10" x2="534.00" y2="247.30" stroke="#55565a" stroke-width="0.9" />
<line x1="547.20" y1="244.10" x2="547.20" y2="247.30" stroke="#55565a" stroke-width="0.9" />
<line x1="560.00" y1="244.10" x2="560.00" y2="247.30" stroke="#55565a" stroke-width="0.9" />
<line x1="573.40" y1="244.10" x2="573.40" y2="247.30" stroke="#55565a" stroke-width="0.9" />
<text x="534.00" y="254.30" font-size="6.3" text-anchor="middle" fill="#231f20" font-weight="normal" font-style="normal"  stroke="#231f20" stroke-width="0.140">OFF</text>
<text x="547.20" y="254.30" font-size="6.3" text-anchor="middle" fill="#231f20" font-weight="normal" font-style="normal"  stroke="#231f20" stroke-width="0.140">ON</text>
<text x="560.00" y="254.30" font-size="6.3" text-anchor="middle" fill="#231f20" font-weight="normal" font-style="normal"  stroke="#231f20" stroke-width="0.140">OFF</text>
<text x="573.40" y="254.30" font-size="6.3" text-anchor="middle" fill="#231f20" font-weight="normal" font-style="normal"  stroke="#231f20" stroke-width="0.140">ON</text>
<polyline points="561.10,164.40 561.10,161.40 573.60,161.40 573.60,164.40" fill="none" stroke="#58595b" stroke-width="0.9"/>
<text x="567.35" y="164.20" font-size="13.4" text-anchor="middle" fill="#231f20" font-weight="bold" font-style="normal"  stroke="#231f20" stroke-width="0.200">**</text>
<rect x="637.80" y="158.50" width="9.20" height="73.20" fill="#f8f3c1" stroke="none" stroke-width="0" />
<rect x="664.10" y="158.50" width="9.20" height="73.20" fill="#f8f3c1" stroke="none" stroke-width="0" />
<line x1="628.20" y1="182.50" x2="643.70" y2="183.50" stroke="#9d9fa2" stroke-width="0.5" />
<line x1="628.20" y1="183.50" x2="643.70" y2="186.00" stroke="#9d9fa2" stroke-width="0.5" />
<line x1="628.20" y1="186.50" x2="643.70" y2="185.00" stroke="#9d9fa2" stroke-width="0.5" />
<line x1="628.20" y1="188.50" x2="643.70" y2="187.50" stroke="#9d9fa2" stroke-width="0.5" />
<line x1="628.20" y1="190.00" x2="643.70" y2="188.00" stroke="#9d9fa2" stroke-width="0.5" />
<line x1="628.20" y1="199.00" x2="643.70" y2="195.00" stroke="#9d9fa2" stroke-width="0.5" />
<line x1="628.20" y1="200.00" x2="643.70" y2="197.00" stroke="#9d9fa2" stroke-width="0.5" />
<line x1="628.20" y1="203.50" x2="643.70" y2="203.50" stroke="#9d9fa2" stroke-width="0.5" />
<line x1="654.50" y1="186.00" x2="669.60" y2="186.50" stroke="#9d9fa2" stroke-width="0.5" />
<line x1="654.50" y1="188.00" x2="669.60" y2="186.00" stroke="#9d9fa2" stroke-width="0.5" />
<line x1="654.50" y1="189.50" x2="669.60" y2="188.00" stroke="#9d9fa2" stroke-width="0.5" />
<line x1="654.50" y1="191.00" x2="669.60" y2="190.00" stroke="#9d9fa2" stroke-width="0.5" />
<line x1="654.50" y1="196.00" x2="669.60" y2="192.00" stroke="#9d9fa2" stroke-width="0.5" />
<line x1="654.50" y1="197.00" x2="669.60" y2="198.00" stroke="#9d9fa2" stroke-width="0.5" />
<line x1="654.50" y1="202.50" x2="669.60" y2="197.50" stroke="#9d9fa2" stroke-width="0.5" />
<line x1="629.20" y1="192.30" x2="642.70" y2="191.10" stroke="#58595b" stroke-width="0.6" />
<circle cx="629.20" cy="192.30" r="2.3" fill="#231f20"/>
<circle cx="642.70" cy="191.10" r="2.3" fill="#231f20"/>
<line x1="655.50" y1="191.80" x2="668.60" y2="191.40" stroke="#58595b" stroke-width="0.6" />
<circle cx="655.50" cy="191.80" r="2.3" fill="#231f20"/>
<circle cx="668.60" cy="191.40" r="2.3" fill="#231f20"/>
<text x="675.00" y="214.60" font-size="4.7" text-anchor="end" fill="#231f20" font-weight="bold" font-style="italic"  stroke="#231f20" stroke-width="0.104">RM-2w ANOVA</text>
<text x="675.00" y="220.30" font-size="4.7" text-anchor="end" fill="#3a3a3c" font-weight="normal" font-style="italic"  stroke="#3a3a3c" stroke-width="0.104">Virus: p=0.970</text>
<text x="675.00" y="225.90" font-size="4.7" text-anchor="end" fill="#3a3a3c" font-weight="normal" font-style="italic"  stroke="#3a3a3c" stroke-width="0.104">Light: p=0.247</text>
<text x="675.00" y="231.50" font-size="4.7" text-anchor="end" fill="#3a3a3c" font-weight="normal" font-style="italic"  stroke="#3a3a3c" stroke-width="0.104">Interaction: p=0.768</text>
<rect x="621.90" y="234.20" width="26.30" height="7.30" fill="#2fae4a" stroke="none" stroke-width="0" />
<rect x="649.50" y="234.20" width="26.50" height="7.30" fill="#f3ee9c" stroke="none" stroke-width="0" />
<text x="635.05" y="240.10" font-size="6.9" text-anchor="middle" fill="#1a1a1a" font-weight="normal" font-style="normal" stroke="#1a1a1a" stroke-width="0.2">GFP</text>
<text x="662.75" y="240.10" font-size="6.9" text-anchor="middle" fill="#1a1a1a" font-weight="normal" font-style="normal" stroke="#1a1a1a" stroke-width="0.2">NPHR</text>
<line x1="620.00" y1="158.50" x2="620.00" y2="244.10" stroke="#55565a" stroke-width="0.9" />
<line x1="616.60" y1="158.50" x2="620.00" y2="158.50" stroke="#55565a" stroke-width="0.9" />
<text x="615.40" y="162.20" font-size="10.4" text-anchor="end" fill="#231f20" font-weight="normal" font-style="normal"  stroke="#231f20" stroke-width="0.200">0.8</text>
<line x1="616.60" y1="179.90" x2="620.00" y2="179.90" stroke="#55565a" stroke-width="0.9" />
<text x="615.40" y="183.60" font-size="10.4" text-anchor="end" fill="#231f20" font-weight="normal" font-style="normal"  stroke="#231f20" stroke-width="0.200">0.6</text>
<line x1="616.60" y1="201.30" x2="620.00" y2="201.30" stroke="#55565a" stroke-width="0.9" />
<text x="615.40" y="205.00" font-size="10.4" text-anchor="end" fill="#231f20" font-weight="normal" font-style="normal"  stroke="#231f20" stroke-width="0.200">0.4</text>
<line x1="616.60" y1="222.70" x2="620.00" y2="222.70" stroke="#55565a" stroke-width="0.9" />
<text x="615.40" y="226.40" font-size="10.4" text-anchor="end" fill="#231f20" font-weight="normal" font-style="normal"  stroke="#231f20" stroke-width="0.200">0.2</text>
<line x1="616.60" y1="244.10" x2="620.00" y2="244.10" stroke="#55565a" stroke-width="0.9" />
<text x="615.40" y="247.80" font-size="10.4" text-anchor="end" fill="#231f20" font-weight="normal" font-style="normal"  stroke="#231f20" stroke-width="0.200">0.0</text>
<line x1="620.00" y1="244.10" x2="676.80" y2="244.10" stroke="#55565a" stroke-width="0.9" />
<line x1="629.20" y1="244.10" x2="629.20" y2="247.30" stroke="#55565a" stroke-width="0.9" />
<line x1="642.70" y1="244.10" x2="642.70" y2="247.30" stroke="#55565a" stroke-width="0.9" />
<line x1="655.50" y1="244.10" x2="655.50" y2="247.30" stroke="#55565a" stroke-width="0.9" />
<line x1="668.60" y1="244.10" x2="668.60" y2="247.30" stroke="#55565a" stroke-width="0.9" />
<text x="629.20" y="254.60" font-size="6.3" text-anchor="middle" fill="#231f20" font-weight="normal" font-style="normal"  stroke="#231f20" stroke-width="0.140">ON</text>
<text x="642.70" y="254.60" font-size="6.3" text-anchor="middle" fill="#231f20" font-weight="normal" font-style="normal"  stroke="#231f20" stroke-width="0.140">OFF</text>
<text x="655.50" y="254.60" font-size="6.3" text-anchor="middle" fill="#231f20" font-weight="normal" font-style="normal"  stroke="#231f20" stroke-width="0.140">ON</text>
<text x="668.60" y="254.60" font-size="6.3" text-anchor="middle" fill="#231f20" font-weight="normal" font-style="normal"  stroke="#231f20" stroke-width="0.140">OFF</text>
<text x="140.50" y="31.70" font-size="19.2" text-anchor="start" fill="#231f20" font-weight="normal" font-style="normal"  stroke="#231f20" stroke-width="0.200">b</text>
<text x="140.20" y="157.00" font-size="19.2" text-anchor="start" fill="#231f20" font-weight="normal" font-style="normal"  stroke="#231f20" stroke-width="0.200">c</text>
<text x="489.90" y="28.60" font-size="19.2" text-anchor="start" fill="#231f20" font-weight="normal" font-style="normal"  stroke="#231f20" stroke-width="0.200">e</text>
<text x="485.80" y="153.50" font-size="19.2" text-anchor="start" fill="#231f20" font-weight="normal" font-style="normal"  stroke="#231f20" stroke-width="0.200">f</text>
<text x="6.20" y="31.60" font-size="19.2" text-anchor="start" fill="#231f20" font-weight="normal" font-style="normal"  stroke="#231f20" stroke-width="0.200">a</text>
<text x="347.60" y="28.60" font-size="19.2" text-anchor="start" fill="#231f20" font-weight="normal" font-style="normal"  stroke="#231f20" stroke-width="0.200">d</text>
<text transform="translate(154.60,70.90) rotate(-90)" x="0" y="0" font-size="10.5" text-anchor="middle" fill="#231f20" font-weight="normal" font-style="normal" textLength="43.30" lengthAdjust="spacingAndGlyphs" stroke="#231f20" stroke-width="0.200">Win-Stay</text>
<text transform="translate(250.20,72.60) rotate(-90)" x="0" y="0" font-size="10.5" text-anchor="middle" fill="#231f20" font-weight="normal" font-style="normal" textLength="46.80" lengthAdjust="spacingAndGlyphs" stroke="#231f20" stroke-width="0.200">Lose-Stay</text>
<text transform="translate(154.80,204.80) rotate(-90)" x="0" y="0" font-size="10.5" text-anchor="middle" fill="#231f20" font-weight="normal" font-style="normal" textLength="43.10" lengthAdjust="spacingAndGlyphs" stroke="#231f20" stroke-width="0.200">Win-Stay</text>
<text transform="translate(250.80,204.80) rotate(-90)" x="0" y="0" font-size="10.5" text-anchor="middle" fill="#231f20" font-weight="normal" font-style="normal" textLength="47.60" lengthAdjust="spacingAndGlyphs" stroke="#231f20" stroke-width="0.200">Lose-Stay</text>
<text transform="translate(500.00,72.70) rotate(-90)" x="0" y="0" font-size="10.5" text-anchor="middle" fill="#231f20" font-weight="normal" font-style="normal" textLength="43.80" lengthAdjust="spacingAndGlyphs" stroke="#231f20" stroke-width="0.200">Win-Stay</text>
<text transform="translate(595.80,72.30) rotate(-90)" x="0" y="0" font-size="10.5" text-anchor="middle" fill="#231f20" font-weight="normal" font-style="normal" textLength="46.40" lengthAdjust="spacingAndGlyphs" stroke="#231f20" stroke-width="0.200">Lose-Stay</text>
<text transform="translate(500.00,198.50) rotate(-90)" x="0" y="0" font-size="10.5" text-anchor="middle" fill="#231f20" font-weight="normal" font-style="normal" textLength="42.20" lengthAdjust="spacingAndGlyphs" stroke="#231f20" stroke-width="0.200">Win-Stay</text>
<text transform="translate(596.80,198.50) rotate(-90)" x="0" y="0" font-size="10.5" text-anchor="middle" fill="#231f20" font-weight="normal" font-style="normal" textLength="47.20" lengthAdjust="spacingAndGlyphs" stroke="#231f20" stroke-width="0.200">Lose-Stay</text>
<line x1="131.30" y1="27.10" x2="131.30" y2="47.70" stroke="#231f20" stroke-width="0.9" />
<line x1="131.30" y1="109.20" x2="131.30" y2="132.00" stroke="#231f20" stroke-width="0.9" />
<text transform="translate(135.10,78.35) rotate(-90)" x="0" y="0" font-size="10.4" text-anchor="middle" fill="#43459e" font-weight="normal" font-style="normal" textLength="52.70" lengthAdjust="spacingAndGlyphs" stroke="#43459e" stroke-width="0.200">PL::A-DMS</text>
<line x1="131.20" y1="150.70" x2="131.20" y2="173.40" stroke="#231f20" stroke-width="0.9" />
<line x1="131.20" y1="234.40" x2="131.20" y2="255.60" stroke="#231f20" stroke-width="0.9" />
<text transform="translate(135.00,203.85) rotate(-90)" x="0" y="0" font-size="10.4" text-anchor="middle" fill="#f0923a" font-weight="normal" font-style="normal" textLength="52.50" lengthAdjust="spacingAndGlyphs" stroke="#f0923a" stroke-width="0.200">PL::P-DMS</text>
<line x1="482.60" y1="27.40" x2="482.60" y2="47.10" stroke="#231f20" stroke-width="0.9" />
<line x1="482.60" y1="109.40" x2="482.60" y2="132.00" stroke="#231f20" stroke-width="0.9" />
<text transform="translate(486.40,78.35) rotate(-90)" x="0" y="0" font-size="10.4" text-anchor="middle" fill="#43459e" font-weight="normal" font-style="normal" textLength="52.70" lengthAdjust="spacingAndGlyphs" stroke="#43459e" stroke-width="0.200">PL::A-DMS</text>
<line x1="482.20" y1="151.70" x2="482.20" y2="171.40" stroke="#231f20" stroke-width="0.9" />
<line x1="482.20" y1="234.20" x2="482.20" y2="256.90" stroke="#231f20" stroke-width="0.9" />
<text transform="translate(486.00,203.85) rotate(-90)" x="0" y="0" font-size="10.4" text-anchor="middle" fill="#f0923a" font-weight="normal" font-style="normal" textLength="52.50" lengthAdjust="spacingAndGlyphs" stroke="#f0923a" stroke-width="0.200">PL::P-DMS</text>
<g transform="translate(0,0)">
<text x="29.80" y="43.30" font-size="8.3" text-anchor="middle" fill="#231f20" font-weight="bold" font-style="normal"  stroke="#231f20" stroke-width="0.184">PL</text>
<text x="13.90" y="53.20" font-size="8.4" text-anchor="start" fill="#414042" font-weight="normal" font-style="normal" textLength="32.10" lengthAdjust="spacingAndGlyphs"  stroke="#414042" stroke-width="0.187">[GFP] or</text>
<text x="13.90" y="63.80" font-size="8.4" text-anchor="start" fill="#414042" font-weight="normal" font-style="normal" textLength="28.30" lengthAdjust="spacingAndGlyphs"  stroke="#414042" stroke-width="0.187">[NpHR]</text>
<text x="75.50" y="46.00" font-size="8.3" text-anchor="start" fill="#231f20" font-weight="bold" font-style="normal" textLength="27.70" lengthAdjust="spacingAndGlyphs"  stroke="#231f20" stroke-width="0.184">A-DMS</text>
<text x="75.50" y="55.90" font-size="8.3" text-anchor="start" fill="#231f20" font-weight="bold" font-style="normal" textLength="38.00" lengthAdjust="spacingAndGlyphs"  stroke="#231f20" stroke-width="0.184">or P-DMS</text>
<text x="77.70" y="68.50" font-size="8.1" text-anchor="start" fill="#414042" font-weight="normal" font-style="normal" textLength="28.30" lengthAdjust="spacingAndGlyphs"  stroke="#414042" stroke-width="0.180">bilateral</text>
<text x="69.60" y="79.60" font-size="8.4" text-anchor="start" fill="#414042" font-weight="normal" font-style="normal" textLength="49.20" lengthAdjust="spacingAndGlyphs"  stroke="#414042" stroke-width="0.187">535nm Laser</text>
<path d="M 60.8 76.8 L 66.6 73.9 L 66.6 79.6 Z" fill="#f6d330" stroke="#555" stroke-width="0.5"/>
<path d="M 61 77 C 56 77.5, 52.5 80, 52.2 86" fill="none" stroke="#999" stroke-width="2.0"/>
<path d="M 61 77 C 56 77.5, 52.5 80, 52.2 86" fill="none" stroke="#eee" stroke-width="1.0"/>
<path d="M 87.5 102.8 C 91 101.3, 96 101.3, 100 103.8 C 106 108, 109.5 116, 110.5 127.5 C 111 131.5, 113 133.5, 114.3 136 C 114.6 138.5, 112 140.2, 109 141 C 102 142.5, 94 143.6, 88 142 Z" fill="#ececec" stroke="#231f20" stroke-width="1.1"/>
<path d="M 89.6 140.3 C 96 139.8, 104 137.5, 110.5 127.8" fill="none" stroke="#231f20" stroke-width="0.9"/>
<path d="M 41 106.5 C 35 104.2, 28 105, 25.6 110.5 C 23.6 116.5, 28 123.5, 37 126.5 L 42 118 Z" fill="#ececec" stroke="#231f20" stroke-width="1.1"/>
<path d="M 26.4 110.5 C 30 108.6, 35 108.6, 39 109.8" fill="none" stroke="#231f20" stroke-width="0.8"/>
<path d="M 35 107.6 C 44 103.5, 57 99.5, 71 97.6 C 80 96.6, 86 98, 88.5 102.5 C 89.5 105, 90 108, 91 111 L 40 118 Z" fill="#ececec" stroke="#231f20" stroke-width="1.1"/>
<path d="M 38.5 109 C 45 105.5, 58 103.2, 72 102.8 C 86 102.5, 93.5 111, 93.5 122 C 93.5 136, 86 148.5, 71 148.8 C 58 149, 46 140, 39 129 C 35.5 123, 34.5 114, 38.5 109 Z" fill="#ececec" stroke="#231f20" stroke-width="1.2"/>
<path d="M 40.5 111 C 42 109.5, 46 109.5, 46.8 111.5 C 47.2 114, 45.5 118.5, 42 119.8 C 39.5 120.5, 38.8 117, 39.5 114 Z" fill="#f6d33c"/>
<path d="M 57.3 112 C 62 111.8, 67 112, 69.2 113.5 C 71.2 115, 70.6 117.6, 68 118.6 C 64 119.6, 60 120.6, 57.3 123.8" fill="none" stroke="#8a8c8f" stroke-width="0.6" stroke-dasharray="1 0.9"/>
<path d="M 50 113 C 52.5 112, 55.5 111.8, 57.3 112 L 57.3 124.5 C 56.5 127, 54.5 128.6, 52.5 128.6 C 49.5 128.6, 47.2 125.5, 47 121 C 46.8 117, 47.5 114.5, 50 113 Z" fill="#f6d33c"/>
<text x="72.60" y="120.70" font-size="8.3" text-anchor="start" fill="#414042" font-weight="normal" font-style="normal" textLength="4.60" lengthAdjust="spacingAndGlyphs"  stroke="#414042" stroke-width="0.184">P</text>
<text x="47.00" y="134.80" font-size="8.3" text-anchor="start" fill="#414042" font-weight="normal" font-style="normal" textLength="5.20" lengthAdjust="spacingAndGlyphs"  stroke="#414042" stroke-width="0.184">A</text>
<text x="63.00" y="133.90" font-size="8.3" text-anchor="start" fill="#414042" font-weight="normal" font-style="normal" textLength="17.40" lengthAdjust="spacingAndGlyphs"  stroke="#414042" stroke-width="0.184">DMS</text>
<line x1="52.00" y1="100.00" x2="52.00" y2="112.00" stroke="#e8a0a0" stroke-width="0.6" />
<rect x="53.3" y="84.5" width="3.6" height="15" fill="#d8d6d2" stroke="#8a8a8a" stroke-width="0.5"/>
<rect x="49.8" y="91" width="3.8" height="15.5" fill="#d8d6d2" stroke="#8a8a8a" stroke-width="0.5"/>
<line x1="51.70" y1="93.00" x2="51.70" y2="105.00" stroke="#b0aeaa" stroke-width="0.5" />
<line x1="55.10" y1="86.00" x2="55.10" y2="98.00" stroke="#b0aeaa" stroke-width="0.5" />
<line x1="33.33" y1="96.90" x2="40.73" y2="112.76" stroke="#231f20" stroke-width="0.75"/>
<polygon points="25.38,73.69 26.14,75.32 21.42,77.51 20.66,75.88" fill="#fff" stroke="#231f20" stroke-width="0.6" stroke-linejoin="round"/>
<line x1="23.78" y1="76.42" x2="24.67" y2="78.32" stroke="#231f20" stroke-width="0.7"/>
<polygon points="26.75,77.35 35.42,95.93 31.25,97.87 22.58,79.29" fill="#fff" stroke="#231f20" stroke-width="0.75" stroke-linejoin="round"/>
<line x1="28.23" y1="80.52" x2="25.88" y2="81.62" stroke="#231f20" stroke-width="0.5"/>
<line x1="29.50" y1="83.24" x2="27.14" y2="84.34" stroke="#231f20" stroke-width="0.5"/>
<line x1="30.77" y1="85.96" x2="28.41" y2="87.06" stroke="#231f20" stroke-width="0.5"/>
<line x1="32.04" y1="88.68" x2="29.68" y2="89.77" stroke="#231f20" stroke-width="0.5"/>
<polygon points="33.09,90.94 35.42,95.93 31.25,97.87 28.92,92.89" fill="#0d9a48" stroke="#231f20" stroke-width="0.7" stroke-linejoin="round"/>
<line x1="40.83" y1="93.30" x2="48.23" y2="109.16" stroke="#231f20" stroke-width="0.75"/>
<polygon points="32.88,70.09 33.64,71.72 28.92,73.91 28.16,72.28" fill="#fff" stroke="#231f20" stroke-width="0.6" stroke-linejoin="round"/>
<line x1="31.28" y1="72.82" x2="32.17" y2="74.72" stroke="#231f20" stroke-width="0.7"/>
<polygon points="34.25,73.75 42.92,92.33 38.75,94.27 30.08,75.69" fill="#fff" stroke="#231f20" stroke-width="0.75" stroke-linejoin="round"/>
<line x1="35.73" y1="76.92" x2="33.38" y2="78.02" stroke="#231f20" stroke-width="0.5"/>
<line x1="37.00" y1="79.64" x2="34.64" y2="80.74" stroke="#231f20" stroke-width="0.5"/>
<line x1="38.27" y1="82.36" x2="35.91" y2="83.46" stroke="#231f20" stroke-width="0.5"/>
<line x1="39.54" y1="85.08" x2="37.18" y2="86.17" stroke="#231f20" stroke-width="0.5"/>
<polygon points="40.59,87.34 42.92,92.33 38.75,94.27 36.42,89.29" fill="#0d9a48" stroke="#231f20" stroke-width="0.7" stroke-linejoin="round"/>
</g>
<g transform="translate(342.5,0)">
<text x="29.80" y="43.30" font-size="8.3" text-anchor="middle" fill="#231f20" font-weight="bold" font-style="normal"  stroke="#231f20" stroke-width="0.184">PL</text>
<text x="13.90" y="53.20" font-size="8.4" text-anchor="start" fill="#414042" font-weight="normal" font-style="normal" textLength="32.10" lengthAdjust="spacingAndGlyphs"  stroke="#414042" stroke-width="0.187">[GFP] or</text>
<text x="13.90" y="63.80" font-size="8.4" text-anchor="start" fill="#414042" font-weight="normal" font-style="normal" textLength="28.30" lengthAdjust="spacingAndGlyphs"  stroke="#414042" stroke-width="0.187">[NpHR]</text>
<text x="75.50" y="46.00" font-size="8.3" text-anchor="start" fill="#231f20" font-weight="bold" font-style="normal" textLength="27.70" lengthAdjust="spacingAndGlyphs"  stroke="#231f20" stroke-width="0.184">A-DMS</text>
<text x="75.50" y="55.90" font-size="8.3" text-anchor="start" fill="#231f20" font-weight="bold" font-style="normal" textLength="38.00" lengthAdjust="spacingAndGlyphs"  stroke="#231f20" stroke-width="0.184">or P-DMS</text>
<text x="77.70" y="68.50" font-size="8.1" text-anchor="start" fill="#414042" font-weight="normal" font-style="normal" textLength="28.30" lengthAdjust="spacingAndGlyphs"  stroke="#414042" stroke-width="0.180">bilateral</text>
<text x="69.60" y="79.60" font-size="8.4" text-anchor="start" fill="#414042" font-weight="normal" font-style="normal" textLength="49.20" lengthAdjust="spacingAndGlyphs"  stroke="#414042" stroke-width="0.187">535nm Laser</text>
<path d="M 60.8 76.8 L 66.6 73.9 L 66.6 79.6 Z" fill="#f6d330" stroke="#555" stroke-width="0.5"/>
<path d="M 61 77 C 56 77.5, 52.5 80, 52.2 86" fill="none" stroke="#999" stroke-width="2.0"/>
<path d="M 61 77 C 56 77.5, 52.5 80, 52.2 86" fill="none" stroke="#eee" stroke-width="1.0"/>
<path d="M 87.5 102.8 C 91 101.3, 96 101.3, 100 103.8 C 106 108, 109.5 116, 110.5 127.5 C 111 131.5, 113 133.5, 114.3 136 C 114.6 138.5, 112 140.2, 109 141 C 102 142.5, 94 143.6, 88 142 Z" fill="#ececec" stroke="#231f20" stroke-width="1.1"/>
<path d="M 89.6 140.3 C 96 139.8, 104 137.5, 110.5 127.8" fill="none" stroke="#231f20" stroke-width="0.9"/>
<path d="M 41 106.5 C 35 104.2, 28 105, 25.6 110.5 C 23.6 116.5, 28 123.5, 37 126.5 L 42 118 Z" fill="#ececec" stroke="#231f20" stroke-width="1.1"/>
<path d="M 26.4 110.5 C 30 108.6, 35 108.6, 39 109.8" fill="none" stroke="#231f20" stroke-width="0.8"/>
<path d="M 35 107.6 C 44 103.5, 57 99.5, 71 97.6 C 80 96.6, 86 98, 88.5 102.5 C 89.5 105, 90 108, 91 111 L 40 118 Z" fill="#ececec" stroke="#231f20" stroke-width="1.1"/>
<path d="M 38.5 109 C 45 105.5, 58 103.2, 72 102.8 C 86 102.5, 93.5 111, 93.5 122 C 93.5 136, 86 148.5, 71 148.8 C 58 149, 46 140, 39 129 C 35.5 123, 34.5 114, 38.5 109 Z" fill="#ececec" stroke="#231f20" stroke-width="1.2"/>
<path d="M 40.5 111 C 42 109.5, 46 109.5, 46.8 111.5 C 47.2 114, 45.5 118.5, 42 119.8 C 39.5 120.5, 38.8 117, 39.5 114 Z" fill="#f6d33c"/>
<path d="M 57.3 112 C 62 111.8, 67 112, 69.2 113.5 C 71.2 115, 70.6 117.6, 68 118.6 C 64 119.6, 60 120.6, 57.3 123.8" fill="none" stroke="#8a8c8f" stroke-width="0.6" stroke-dasharray="1 0.9"/>
<path d="M 50 113 C 52.5 112, 55.5 111.8, 57.3 112 L 57.3 124.5 C 56.5 127, 54.5 128.6, 52.5 128.6 C 49.5 128.6, 47.2 125.5, 47 121 C 46.8 117, 47.5 114.5, 50 113 Z" fill="#f6d33c"/>
<text x="72.60" y="120.70" font-size="8.3" text-anchor="start" fill="#414042" font-weight="normal" font-style="normal" textLength="4.60" lengthAdjust="spacingAndGlyphs"  stroke="#414042" stroke-width="0.184">P</text>
<text x="47.00" y="134.80" font-size="8.3" text-anchor="start" fill="#414042" font-weight="normal" font-style="normal" textLength="5.20" lengthAdjust="spacingAndGlyphs"  stroke="#414042" stroke-width="0.184">A</text>
<text x="63.00" y="133.90" font-size="8.3" text-anchor="start" fill="#414042" font-weight="normal" font-style="normal" textLength="17.40" lengthAdjust="spacingAndGlyphs"  stroke="#414042" stroke-width="0.184">DMS</text>
<line x1="52.00" y1="100.00" x2="52.00" y2="112.00" stroke="#e8a0a0" stroke-width="0.6" />
<rect x="53.3" y="84.5" width="3.6" height="15" fill="#d8d6d2" stroke="#8a8a8a" stroke-width="0.5"/>
<rect x="49.8" y="91" width="3.8" height="15.5" fill="#d8d6d2" stroke="#8a8a8a" stroke-width="0.5"/>
<line x1="51.70" y1="93.00" x2="51.70" y2="105.00" stroke="#b0aeaa" stroke-width="0.5" />
<line x1="55.10" y1="86.00" x2="55.10" y2="98.00" stroke="#b0aeaa" stroke-width="0.5" />
<line x1="33.33" y1="96.90" x2="40.73" y2="112.76" stroke="#231f20" stroke-width="0.75"/>
<polygon points="25.38,73.69 26.14,75.32 21.42,77.51 20.66,75.88" fill="#fff" stroke="#231f20" stroke-width="0.6" stroke-linejoin="round"/>
<line x1="23.78" y1="76.42" x2="24.67" y2="78.32" stroke="#231f20" stroke-width="0.7"/>
<polygon points="26.75,77.35 35.42,95.93 31.25,97.87 22.58,79.29" fill="#fff" stroke="#231f20" stroke-width="0.75" stroke-linejoin="round"/>
<line x1="28.23" y1="80.52" x2="25.88" y2="81.62" stroke="#231f20" stroke-width="0.5"/>
<line x1="29.50" y1="83.24" x2="27.14" y2="84.34" stroke="#231f20" stroke-width="0.5"/>
<line x1="30.77" y1="85.96" x2="28.41" y2="87.06" stroke="#231f20" stroke-width="0.5"/>
<line x1="32.04" y1="88.68" x2="29.68" y2="89.77" stroke="#231f20" stroke-width="0.5"/>
<polygon points="33.09,90.94 35.42,95.93 31.25,97.87 28.92,92.89" fill="#0d9a48" stroke="#231f20" stroke-width="0.7" stroke-linejoin="round"/>
<line x1="40.83" y1="93.30" x2="48.23" y2="109.16" stroke="#231f20" stroke-width="0.75"/>
<polygon points="32.88,70.09 33.64,71.72 28.92,73.91 28.16,72.28" fill="#fff" stroke="#231f20" stroke-width="0.6" stroke-linejoin="round"/>
<line x1="31.28" y1="72.82" x2="32.17" y2="74.72" stroke="#231f20" stroke-width="0.7"/>
<polygon points="34.25,73.75 42.92,92.33 38.75,94.27 30.08,75.69" fill="#fff" stroke="#231f20" stroke-width="0.75" stroke-linejoin="round"/>
<line x1="35.73" y1="76.92" x2="33.38" y2="78.02" stroke="#231f20" stroke-width="0.5"/>
<line x1="37.00" y1="79.64" x2="34.64" y2="80.74" stroke="#231f20" stroke-width="0.5"/>
<line x1="38.27" y1="82.36" x2="35.91" y2="83.46" stroke="#231f20" stroke-width="0.5"/>
<line x1="39.54" y1="85.08" x2="37.18" y2="86.17" stroke="#231f20" stroke-width="0.5"/>
<polygon points="40.59,87.34 42.92,92.33 38.75,94.27 36.42,89.29" fill="#0d9a48" stroke="#231f20" stroke-width="0.7" stroke-linejoin="round"/>
</g>
<rect x="29.30" y="187.20" width="54.50" height="6.30" fill="#f6d33c" stroke="none" stroke-width="0" />
<path d="M 19.5 186.3 L 11.6 186.3 Q 10.1 186.3 10.1 187.8 L 10.1 192.6 Q 10.1 194.1 11.6 194.1 L 19.5 194.1" fill="none" stroke="#9a9a9a" stroke-width="1.3"/>
<line x1="29.00" y1="186.30" x2="88.40" y2="186.30" stroke="#a0a0a0" stroke-width="1.3" />
<line x1="29.00" y1="194.10" x2="88.40" y2="194.10" stroke="#a0a0a0" stroke-width="1.3" />
<line x1="20.40" y1="186.30" x2="21.50" y2="186.30" stroke="#a0a0a0" stroke-width="1.2" />
<line x1="20.40" y1="194.10" x2="21.50" y2="194.10" stroke="#a0a0a0" stroke-width="1.2" />
<line x1="22.60" y1="186.30" x2="23.70" y2="186.30" stroke="#a0a0a0" stroke-width="1.2" />
<line x1="22.60" y1="194.10" x2="23.70" y2="194.10" stroke="#a0a0a0" stroke-width="1.2" />
<line x1="24.80" y1="186.30" x2="25.90" y2="186.30" stroke="#a0a0a0" stroke-width="1.2" />
<line x1="24.80" y1="194.10" x2="25.90" y2="194.10" stroke="#a0a0a0" stroke-width="1.2" />
<line x1="27.00" y1="186.30" x2="28.10" y2="186.30" stroke="#a0a0a0" stroke-width="1.2" />
<line x1="27.00" y1="194.10" x2="28.10" y2="194.10" stroke="#a0a0a0" stroke-width="1.2" />
<text x="14.90" y="192.60" font-size="6.6" text-anchor="middle" fill="#231f20" font-weight="normal" font-style="normal" textLength="5.80" lengthAdjust="spacingAndGlyphs"  stroke="#231f20" stroke-width="0.147">t-1</text>
<text x="56.60" y="193.00" font-size="6.3" text-anchor="middle" fill="#2a2a2a" font-weight="normal" font-style="normal" textLength="35.50" lengthAdjust="spacingAndGlyphs" stroke="none">30% 535 nm</text>
<line x1="29.30" y1="175.30" x2="29.30" y2="181.00" stroke="#231f20" stroke-width="0.9" />
<path d="M 27.20 180.50 L 31.40 180.50 L 29.30 184.50 Z" fill="#231f20"/>
<line x1="58.20" y1="175.30" x2="58.20" y2="181.00" stroke="#231f20" stroke-width="0.9" />
<path d="M 56.10 180.50 L 60.30 180.50 L 58.20 184.50 Z" fill="#231f20"/>
<line x1="83.60" y1="175.30" x2="83.60" y2="181.00" stroke="#231f20" stroke-width="0.9" />
<path d="M 81.50 180.50 L 85.70 180.50 L 83.60 184.50 Z" fill="#231f20"/>
<text transform="translate(23.00,168.30) rotate(42)" font-size="7.0" fill="#231f20">Init</text>
<text transform="translate(41.00,163.20) rotate(33)" font-size="7.0" fill="#231f20">Choice</text>
<text transform="translate(59.80,158.60) rotate(31)" font-size="7.0" fill="#231f20">Outcome</text>
<path d="M 69.2 182.5 L 70.5 179.8 L 71.8 182.5 Z" fill="#a0522d"/>
<path d="M 77.2 182.5 L 78.5 179.8 L 79.8 182.5 Z" fill="#a0522d"/>
<text x="74.50" y="182.40" font-size="3.2" text-anchor="middle" fill="#777" font-weight="normal" font-style="normal"  stroke="#777" stroke-width="0.071">o/o</text>
<line x1="75.60" y1="176.80" x2="77.60" y2="178.30" stroke="#777" stroke-width="0.4" />
<path d="M 88.6 188.5 C 95 190, 96 197, 88 199.5 C 75 202.5, 40 198.5, 30 207 C 24 213, 24 228, 36 235" fill="none" stroke="#231f20" stroke-width="0.7" stroke-dasharray="0.8 1.4"/>
<path d="M 37.4 232.6 L 42.4 235.0 L 37.4 237.4 Z" fill="#231f20"/>
<line x1="44.00" y1="232.30" x2="50.00" y2="232.30" stroke="#231f20" stroke-width="0.7" />
<line x1="44.00" y1="239.40" x2="50.00" y2="239.40" stroke="#231f20" stroke-width="0.7" />
<path d="M 50 232.3 C 51.8 234, 51.8 237.7, 50 239.4" fill="none" stroke="#231f20" stroke-width="0.7"/>
<line x1="51.20" y1="232.30" x2="61.40" y2="232.30" stroke="#231f20" stroke-width="0.8" />
<line x1="51.20" y1="239.40" x2="61.40" y2="239.40" stroke="#231f20" stroke-width="0.8" />
<line x1="68.00" y1="232.30" x2="108.30" y2="232.30" stroke="#231f20" stroke-width="0.8" />
<line x1="68.00" y1="239.40" x2="108.30" y2="239.40" stroke="#231f20" stroke-width="0.8" />
<line x1="62.50" y1="232.30" x2="63.30" y2="232.30" stroke="#231f20" stroke-width="0.8" />
<line x1="62.50" y1="239.40" x2="63.30" y2="239.40" stroke="#231f20" stroke-width="0.8" />
<line x1="64.50" y1="232.30" x2="65.30" y2="232.30" stroke="#231f20" stroke-width="0.8" />
<line x1="64.50" y1="239.40" x2="65.30" y2="239.40" stroke="#231f20" stroke-width="0.8" />
<line x1="66.50" y1="232.30" x2="67.30" y2="232.30" stroke="#231f20" stroke-width="0.8" />
<line x1="66.50" y1="239.40" x2="67.30" y2="239.40" stroke="#231f20" stroke-width="0.8" />
<path d="M 108.3 232.3 C 110 234, 110 237.7, 108.3 239.4" fill="#231f20" stroke="#231f20" stroke-width="0.7"/>
<line x1="51.40" y1="232.60" x2="51.40" y2="239.10" stroke="#231f20" stroke-width="0.6" />
<text x="53.20" y="238.30" font-size="5.5" text-anchor="middle" fill="#231f20" font-weight="normal" font-style="normal"  stroke="#231f20" stroke-width="0.122">t</text>
<line x1="54.80" y1="221.20" x2="54.80" y2="226.70" stroke="#231f20" stroke-width="0.9" />
<path d="M 52.70 226.20 L 56.90 226.20 L 54.80 230.20 Z" fill="#231f20"/>
<line x1="73.80" y1="221.20" x2="73.80" y2="226.70" stroke="#231f20" stroke-width="0.9" />
<path d="M 71.70 226.20 L 75.90 226.20 L 73.80 230.20 Z" fill="#231f20"/>
<line x1="102.80" y1="221.20" x2="102.80" y2="226.70" stroke="#231f20" stroke-width="0.9" />
<path d="M 100.70 226.20 L 104.90 226.20 L 102.80 230.20 Z" fill="#231f20"/>
<text transform="translate(43.20,212.00) rotate(38)" font-size="7.0" fill="#231f20">CUE</text>
<text transform="translate(68.00,212.80) rotate(45)" font-size="7.0" fill="#231f20">Init</text>
<text transform="translate(85.40,207.50) rotate(33)" font-size="7.0" fill="#231f20">Choice</text>
<text x="90.30" y="250.50" font-size="10.4" text-anchor="start" fill="#3a84c5" font-weight="normal" font-style="normal" textLength="19.20" lengthAdjust="spacingAndGlyphs"  stroke="#3a84c5" stroke-width="0.200">stay</text>
<text x="90.30" y="262.90" font-size="10.4" text-anchor="start" fill="#3a84c5" font-weight="normal" font-style="normal" textLength="20.00" lengthAdjust="spacingAndGlyphs"  stroke="#3a84c5" stroke-width="0.200">[b,c]</text>
<rect x="376.30" y="217.90" width="29.00" height="8.10" fill="#f6d33c" stroke="none" stroke-width="0" />
<line x1="354.90" y1="217.60" x2="406.70" y2="217.60" stroke="#a0a0a0" stroke-width="1.2" />
<line x1="354.90" y1="226.40" x2="406.70" y2="226.40" stroke="#a0a0a0" stroke-width="1.2" />
<line x1="355.20" y1="217.60" x2="355.20" y2="226.40" stroke="#231f20" stroke-width="0.7" />
<line x1="388.00" y1="217.60" x2="389.20" y2="217.60" stroke="#fff" stroke-width="1.3" />
<line x1="390.50" y1="217.60" x2="391.70" y2="217.60" stroke="#fff" stroke-width="1.3" />
<line x1="393.00" y1="217.60" x2="394.20" y2="217.60" stroke="#fff" stroke-width="1.3" />
<line x1="395.50" y1="217.60" x2="396.70" y2="217.60" stroke="#fff" stroke-width="1.3" />
<text x="357.50" y="224.80" font-size="8.0" text-anchor="start" fill="#231f20" font-weight="normal" font-style="normal" textLength="8.80" lengthAdjust="spacingAndGlyphs"  stroke="#231f20" stroke-width="0.178">t-1</text>
<text x="391.80" y="224.80" font-size="8.0" text-anchor="middle" fill="#231f20" font-weight="normal" font-style="normal" textLength="14.00" lengthAdjust="spacingAndGlyphs"  stroke="#231f20" stroke-width="0.178">30%</text>
<path d="M 405.4 217.6 L 408.4 222 L 405.4 226.4 Z" fill="#231f20"/>
<line x1="408.60" y1="217.60" x2="466.40" y2="217.60" stroke="#a0a0a0" stroke-width="1.2" />
<line x1="408.60" y1="226.40" x2="466.40" y2="226.40" stroke="#231f20" stroke-width="0.8" />
<line x1="409.00" y1="217.60" x2="409.00" y2="226.40" stroke="#231f20" stroke-width="0.7" />
<line x1="444.00" y1="217.60" x2="445.20" y2="217.60" stroke="#fff" stroke-width="1.3" />
<line x1="444.00" y1="226.40" x2="445.20" y2="226.40" stroke="#fff" stroke-width="1.3" />
<line x1="446.50" y1="217.60" x2="447.70" y2="217.60" stroke="#fff" stroke-width="1.3" />
<line x1="446.50" y1="226.40" x2="447.70" y2="226.40" stroke="#fff" stroke-width="1.3" />
<line x1="449.00" y1="217.60" x2="450.20" y2="217.60" stroke="#fff" stroke-width="1.3" />
<line x1="449.00" y1="226.40" x2="450.20" y2="226.40" stroke="#fff" stroke-width="1.3" />
<path d="M 466.4 217.6 L 468.6 222 L 466.4 226.4 Z" fill="#231f20"/>
<line x1="466.40" y1="217.60" x2="466.40" y2="226.40" stroke="#231f20" stroke-width="0.7" />
<text x="410.80" y="224.80" font-size="8.0" text-anchor="start" fill="#231f20" font-weight="normal" font-style="normal"  stroke="#231f20" stroke-width="0.178">t</text>
<text x="391.60" y="233.70" font-size="7.6" text-anchor="middle" fill="#414042" font-weight="normal" font-style="normal" textLength="23.50" lengthAdjust="spacingAndGlyphs"  stroke="#414042" stroke-width="0.169">535 nm</text>
<line x1="377.30" y1="206.00" x2="377.30" y2="212.10" stroke="#231f20" stroke-width="0.9" />
<path d="M 375.20 211.60 L 379.40 211.60 L 377.30 215.60 Z" fill="#231f20"/>
<line x1="408.60" y1="206.00" x2="408.60" y2="212.10" stroke="#231f20" stroke-width="0.9" />
<path d="M 406.50 211.60 L 410.70 211.60 L 408.60 215.60 Z" fill="#231f20"/>
<line x1="432.70" y1="206.00" x2="432.70" y2="212.10" stroke="#231f20" stroke-width="0.9" />
<path d="M 430.60 211.60 L 434.80 211.60 L 432.70 215.60 Z" fill="#231f20"/>
<line x1="458.30" y1="206.00" x2="458.30" y2="212.10" stroke="#231f20" stroke-width="0.9" />
<path d="M 456.20 211.60 L 460.40 211.60 L 458.30 215.60 Z" fill="#231f20"/>
<text transform="translate(348.80,185.60) rotate(33)" font-size="8.9" fill="#231f20">Outcome</text>
<text transform="translate(393.40,194.20) rotate(42)" font-size="8.9" fill="#231f20">CUE</text>
<text transform="translate(422.80,197.50) rotate(48)" font-size="8.7" fill="#231f20">Init</text>
<text transform="translate(435.10,190.00) rotate(36)" font-size="8.9" fill="#231f20">Choice</text>
<path d="M 363.2 214.6 L 364.3 211.6 L 365.4 214.6 Z" fill="#8b4513"/>
<path d="M 371.6 214.6 L 372.7 211.6 L 373.8 214.6 Z" fill="#8b4513"/>
<text x="368.50" y="214.40" font-size="3.6" text-anchor="middle" fill="#777" font-weight="normal" font-style="normal"  stroke="#777" stroke-width="0.080">o/o</text>
<line x1="368.50" y1="208.30" x2="371.00" y2="209.80" stroke="#777" stroke-width="0.4" />
<text x="447.00" y="238.40" font-size="10.4" text-anchor="start" fill="#3a84c5" font-weight="normal" font-style="normal" textLength="19.10" lengthAdjust="spacingAndGlyphs"  stroke="#3a84c5" stroke-width="0.200">stay</text>
<text x="447.50" y="249.80" font-size="10.4" text-anchor="start" fill="#3a84c5" font-weight="normal" font-style="normal" textLength="20.60" lengthAdjust="spacingAndGlyphs"  stroke="#3a84c5" stroke-width="0.200">[e, f]</text>
<line x1="11.90" y1="290.20" x2="117.70" y2="290.20" stroke="#6d6e71" stroke-width="1.1" />
<line x1="208.50" y1="290.20" x2="319.10" y2="290.20" stroke="#6d6e71" stroke-width="1.1" />
<text x="133.70" y="293.80" font-size="10.3" text-anchor="start" fill="#43459e" font-weight="normal" font-style="normal" textLength="52.90" lengthAdjust="spacingAndGlyphs"  stroke="#43459e" stroke-width="0.200">PL::A-DMS</text>
<line x1="355.20" y1="292.40" x2="466.60" y2="292.40" stroke="#414042" stroke-width="1.1" />
<line x1="556.40" y1="292.40" x2="679.20" y2="292.40" stroke="#414042" stroke-width="1.1" />
<text x="479.70" y="295.80" font-size="10.3" text-anchor="start" fill="#f0923a" font-weight="normal" font-style="normal" textLength="52.90" lengthAdjust="spacingAndGlyphs"  stroke="#f0923a" stroke-width="0.200">PL::P-DMS</text>
<text x="6.60" y="313.80" font-size="19.2" text-anchor="start" fill="#231f20" font-weight="normal" font-style="normal"  stroke="#231f20" stroke-width="0.200">g</text>
<text x="136.70" y="314.10" font-size="19.2" text-anchor="start" fill="#231f20" font-weight="normal" font-style="normal"  stroke="#231f20" stroke-width="0.200">h</text>
<text x="360.40" y="316.80" font-size="19.2" text-anchor="start" fill="#231f20" font-weight="normal" font-style="normal"  stroke="#231f20" stroke-width="0.200">i</text>
<text x="491.60" y="316.80" font-size="19.2" text-anchor="start" fill="#231f20" font-weight="normal" font-style="normal"  stroke="#231f20" stroke-width="0.200">j</text>
<rect x="64.30" y="324.00" width="45.70" height="61.50" fill="#fcf7d2" stroke="#f3e98a" stroke-width="1.0" />
<text x="84.20" y="311.50" font-size="8.2" text-anchor="middle" fill="#231f20" font-weight="normal" font-style="normal" textLength="57.80" lengthAdjust="spacingAndGlyphs"  stroke="#231f20" stroke-width="0.182">Outcome epoch</text>
<text x="84.20" y="321.70" font-size="8.2" text-anchor="middle" fill="#231f20" font-weight="normal" font-style="normal" textLength="41.00" lengthAdjust="spacingAndGlyphs"  stroke="#231f20" stroke-width="0.182">Illumination</text>
<polygon points="68.30,345.00 77.10,342.30 86.40,341.00 95.50,340.80 104.80,339.30 104.80,343.60 95.50,345.10 86.40,345.30 77.10,346.60 68.30,349.30" fill="#bcbec0" opacity="0.7"/>
<polyline points="68.30,346.20 77.10,342.60 86.40,340.60 95.50,340.30 104.80,338.20" fill="none" stroke="#2e3f9e" stroke-width="1.9" stroke-linejoin="round" stroke-linecap="round" opacity="1.0"/>
<polyline points="44.80,344.30 55.00,346.20" fill="none" stroke="#bcbec0" stroke-width="2.2" stroke-linejoin="round" stroke-linecap="round" opacity="1.0"/>
<polyline points="44.80,343.20 55.00,346.30" fill="none" stroke="#2e3f9e" stroke-width="1.6" stroke-linejoin="round" stroke-linecap="round" opacity="1.0"/>
<text x="107.30" y="361.40" font-size="7.0" text-anchor="end" fill="#231f20" font-weight="bold" font-style="italic"  stroke="#231f20" stroke-width="0.156">RM 2w ANOVA</text>
<text x="107.30" y="368.40" font-size="7.0" text-anchor="end" fill="#414042" font-weight="normal" font-style="normal"  stroke="#414042" stroke-width="0.156">Virus p =0.07</text>
<text x="107.30" y="375.30" font-size="7.0" text-anchor="end" fill="#414042" font-weight="normal" font-style="normal"  stroke="#414042" stroke-width="0.156">Light p= 0.9</text>
<text x="107.30" y="382.60" font-size="7.0" text-anchor="end" fill="#414042" font-weight="normal" font-style="normal"  stroke="#414042" stroke-width="0.156">Interaction p= 0.07</text>
<line x1="40.60" y1="324.20" x2="40.60" y2="386.10" stroke="#231f20" stroke-width="1.3" />
<line x1="35.00" y1="324.70" x2="40.60" y2="324.70" stroke="#231f20" stroke-width="1.2" />
<text x="32.60" y="328.20" font-size="9.6" text-anchor="end" fill="#231f20" font-weight="normal" font-style="normal"  stroke="#231f20" stroke-width="0.200">1.5</text>
<line x1="35.00" y1="344.97" x2="40.60" y2="344.97" stroke="#231f20" stroke-width="1.2" />
<text x="32.60" y="348.47" font-size="9.6" text-anchor="end" fill="#231f20" font-weight="normal" font-style="normal"  stroke="#231f20" stroke-width="0.200">1.0</text>
<line x1="35.00" y1="365.23" x2="40.60" y2="365.23" stroke="#231f20" stroke-width="1.2" />
<text x="32.60" y="368.73" font-size="9.6" text-anchor="end" fill="#231f20" font-weight="normal" font-style="normal"  stroke="#231f20" stroke-width="0.200">0.5</text>
<line x1="35.00" y1="385.50" x2="40.60" y2="385.50" stroke="#231f20" stroke-width="1.2" />
<text x="32.60" y="389.00" font-size="9.6" text-anchor="end" fill="#231f20" font-weight="normal" font-style="normal"  stroke="#231f20" stroke-width="0.200">0.0</text>
<line x1="40.60" y1="385.50" x2="58.70" y2="385.50" stroke="#231f20" stroke-width="1.4" />
<line x1="63.90" y1="385.50" x2="109.60" y2="385.50" stroke="#231f20" stroke-width="1.4" />
<line x1="45.20" y1="385.50" x2="45.20" y2="390.80" stroke="#231f20" stroke-width="1.2" />
<line x1="54.30" y1="385.50" x2="54.30" y2="390.80" stroke="#231f20" stroke-width="1.2" />
<line x1="68.30" y1="385.50" x2="68.30" y2="390.80" stroke="#231f20" stroke-width="1.2" />
<line x1="77.10" y1="385.50" x2="77.10" y2="390.80" stroke="#231f20" stroke-width="1.2" />
<line x1="86.40" y1="385.50" x2="86.40" y2="390.80" stroke="#231f20" stroke-width="1.2" />
<line x1="95.50" y1="385.50" x2="95.50" y2="390.80" stroke="#231f20" stroke-width="1.2" />
<line x1="104.80" y1="385.50" x2="104.80" y2="390.80" stroke="#231f20" stroke-width="1.2" />
<text x="45.20" y="400.50" font-size="9.6" text-anchor="middle" fill="#231f20" font-weight="normal" font-style="normal"  stroke="#231f20" stroke-width="0.200">-2</text>
<text x="54.30" y="400.50" font-size="9.6" text-anchor="middle" fill="#231f20" font-weight="normal" font-style="normal"  stroke="#231f20" stroke-width="0.200">-1</text>
<text x="68.30" y="400.50" font-size="9.6" text-anchor="middle" fill="#231f20" font-weight="normal" font-style="normal"  stroke="#231f20" stroke-width="0.200">1</text>
<text x="77.10" y="400.50" font-size="9.6" text-anchor="middle" fill="#231f20" font-weight="normal" font-style="normal"  stroke="#231f20" stroke-width="0.200">2</text>
<text x="86.40" y="400.50" font-size="9.6" text-anchor="middle" fill="#231f20" font-weight="normal" font-style="normal"  stroke="#231f20" stroke-width="0.200">3</text>
<text x="95.50" y="400.50" font-size="9.6" text-anchor="middle" fill="#231f20" font-weight="normal" font-style="normal"  stroke="#231f20" stroke-width="0.200">4</text>
<text x="104.80" y="400.50" font-size="9.6" text-anchor="middle" fill="#231f20" font-weight="normal" font-style="normal"  stroke="#231f20" stroke-width="0.200">5</text>
<text x="71.50" y="411.20" font-size="9.1" text-anchor="middle" fill="#231f20" font-weight="normal" font-style="normal"  stroke="#231f20" stroke-width="0.200">Sessions</text>
<text transform="translate(15.90,351.70) rotate(-90)" x="0" y="0" font-size="9.3" text-anchor="middle" fill="#231f20" font-weight="normal" font-style="normal" textLength="41.40" lengthAdjust="spacingAndGlyphs" stroke="#231f20" stroke-width="0.200">Total trials</text>
<rect x="420.30" y="326.00" width="46.30" height="61.40" fill="#fcf7d2" stroke="#f3e98a" stroke-width="1.0" />
<text x="442.00" y="314.40" font-size="8.2" text-anchor="middle" fill="#231f20" font-weight="normal" font-style="normal" textLength="57.80" lengthAdjust="spacingAndGlyphs"  stroke="#231f20" stroke-width="0.182">Outcome epoch</text>
<text x="442.00" y="323.90" font-size="8.2" text-anchor="middle" fill="#231f20" font-weight="normal" font-style="normal" textLength="41.00" lengthAdjust="spacingAndGlyphs"  stroke="#231f20" stroke-width="0.182">Illumination</text>
<polygon points="424.40,353.20 433.90,348.50 443.00,349.60 452.40,351.30 461.70,350.90 461.70,354.50 452.40,354.90 443.00,353.20 433.90,350.90 424.40,355.60" fill="#f6c27a" opacity="0.8"/>
<polyline points="424.40,348.00 433.90,346.10 443.00,344.00 452.40,346.50 461.70,344.60" fill="none" stroke="#a7a9ac" stroke-width="2.0" stroke-linejoin="round" stroke-linecap="round" opacity="1.0"/>
<polyline points="424.40,354.40 433.90,349.70 443.00,350.80 452.40,352.50 461.70,352.10" fill="none" stroke="#f29a2e" stroke-width="1.9" stroke-linejoin="round" stroke-linecap="round" opacity="1.0"/>
<polyline points="397.90,346.80 408.40,346.80" fill="none" stroke="#f29a2e" stroke-width="1.7" stroke-linejoin="round" stroke-linecap="round" opacity="1.0"/>
<polyline points="479.00,340.80 489.20,341.20" fill="none" stroke="#a7a9ac" stroke-width="2.0" stroke-linejoin="round" stroke-linecap="round" opacity="1.0"/>
<polyline points="479.00,342.60 489.20,342.80" fill="none" stroke="#f29a2e" stroke-width="1.9" stroke-linejoin="round" stroke-linecap="round" opacity="1.0"/>
<text x="472.00" y="362.00" font-size="7.0" text-anchor="end" fill="#231f20" font-weight="bold" font-style="italic"  stroke="#231f20" stroke-width="0.156">RM 2w ANOVA</text>
<text x="472.00" y="368.90" font-size="7.0" text-anchor="end" fill="#414042" font-weight="normal" font-style="normal"  stroke="#414042" stroke-width="0.156">Virus p =0.07</text>
<text x="472.00" y="376.10" font-size="7.0" text-anchor="end" fill="#414042" font-weight="normal" font-style="normal"  stroke="#414042" stroke-width="0.156">**Light p= 0.002</text>
<text x="472.00" y="383.30" font-size="7.0" text-anchor="end" fill="#414042" font-weight="normal" font-style="normal"  stroke="#414042" stroke-width="0.156">***Interaction p= 0.0008</text>
<line x1="394.70" y1="326.10" x2="394.70" y2="388.00" stroke="#231f20" stroke-width="1.3" />
<line x1="389.10" y1="326.60" x2="394.70" y2="326.60" stroke="#231f20" stroke-width="1.2" />
<text x="386.70" y="330.10" font-size="9.6" text-anchor="end" fill="#231f20" font-weight="normal" font-style="normal"  stroke="#231f20" stroke-width="0.200">1.5</text>
<line x1="389.10" y1="346.87" x2="394.70" y2="346.87" stroke="#231f20" stroke-width="1.2" />
<text x="386.70" y="350.37" font-size="9.6" text-anchor="end" fill="#231f20" font-weight="normal" font-style="normal"  stroke="#231f20" stroke-width="0.200">1.0</text>
<line x1="389.10" y1="367.13" x2="394.70" y2="367.13" stroke="#231f20" stroke-width="1.2" />
<text x="386.70" y="370.63" font-size="9.6" text-anchor="end" fill="#231f20" font-weight="normal" font-style="normal"  stroke="#231f20" stroke-width="0.200">0.5</text>
<line x1="389.10" y1="387.40" x2="394.70" y2="387.40" stroke="#231f20" stroke-width="1.2" />
<text x="386.70" y="390.90" font-size="9.6" text-anchor="end" fill="#231f20" font-weight="normal" font-style="normal"  stroke="#231f20" stroke-width="0.200">0.0</text>
<line x1="394.70" y1="387.40" x2="410.60" y2="387.40" stroke="#231f20" stroke-width="1.4" />
<line x1="420.30" y1="387.40" x2="466.00" y2="387.40" stroke="#231f20" stroke-width="1.4" />
<line x1="475.80" y1="387.40" x2="491.60" y2="387.40" stroke="#231f20" stroke-width="1.4" />
<line x1="398.80" y1="387.40" x2="398.80" y2="392.70" stroke="#231f20" stroke-width="1.2" />
<line x1="407.70" y1="387.40" x2="407.70" y2="392.70" stroke="#231f20" stroke-width="1.2" />
<line x1="424.20" y1="387.40" x2="424.20" y2="392.70" stroke="#231f20" stroke-width="1.2" />
<line x1="433.70" y1="387.40" x2="433.70" y2="392.70" stroke="#231f20" stroke-width="1.2" />
<line x1="443.00" y1="387.40" x2="443.00" y2="392.70" stroke="#231f20" stroke-width="1.2" />
<line x1="452.30" y1="387.40" x2="452.30" y2="392.70" stroke="#231f20" stroke-width="1.2" />
<line x1="461.40" y1="387.40" x2="461.40" y2="392.70" stroke="#231f20" stroke-width="1.2" />
<line x1="479.10" y1="387.40" x2="479.10" y2="392.70" stroke="#231f20" stroke-width="1.2" />
<line x1="488.20" y1="387.40" x2="488.20" y2="392.70" stroke="#231f20" stroke-width="1.2" />
<text x="398.80" y="402.30" font-size="9.6" text-anchor="middle" fill="#231f20" font-weight="normal" font-style="normal"  stroke="#231f20" stroke-width="0.200">-2</text>
<text x="407.70" y="402.30" font-size="9.6" text-anchor="middle" fill="#231f20" font-weight="normal" font-style="normal"  stroke="#231f20" stroke-width="0.200">-1</text>
<text x="424.20" y="402.30" font-size="9.6" text-anchor="middle" fill="#231f20" font-weight="normal" font-style="normal"  stroke="#231f20" stroke-width="0.200">1</text>
<text x="433.70" y="402.30" font-size="9.6" text-anchor="middle" fill="#231f20" font-weight="normal" font-style="normal"  stroke="#231f20" stroke-width="0.200">2</text>
<text x="443.00" y="402.30" font-size="9.6" text-anchor="middle" fill="#231f20" font-weight="normal" font-style="normal"  stroke="#231f20" stroke-width="0.200">3</text>
<text x="452.30" y="402.30" font-size="9.6" text-anchor="middle" fill="#231f20" font-weight="normal" font-style="normal"  stroke="#231f20" stroke-width="0.200">4</text>
<text x="461.40" y="402.30" font-size="9.6" text-anchor="middle" fill="#231f20" font-weight="normal" font-style="normal"  stroke="#231f20" stroke-width="0.200">5</text>
<text x="479.10" y="402.30" font-size="9.6" text-anchor="middle" fill="#231f20" font-weight="normal" font-style="normal"  stroke="#231f20" stroke-width="0.200">+1</text>
<text x="488.20" y="402.30" font-size="9.6" text-anchor="middle" fill="#231f20" font-weight="normal" font-style="normal"  stroke="#231f20" stroke-width="0.200">+2</text>
<text x="442.20" y="413.60" font-size="9.1" text-anchor="middle" fill="#231f20" font-weight="normal" font-style="normal"  stroke="#231f20" stroke-width="0.200">Sessions</text>
<text transform="translate(370.20,356.00) rotate(-90)" x="0" y="0" font-size="9.3" text-anchor="middle" fill="#231f20" font-weight="normal" font-style="normal" textLength="41.40" lengthAdjust="spacingAndGlyphs" stroke="#231f20" stroke-width="0.200">Total trials</text>
<rect x="179.30" y="359.10" width="10.70" height="25.90" fill="#e1e1e1" stroke="#231f20" stroke-width="0.8" />
<circle cx="184.65" cy="354.20" r="1.5" fill="none" stroke="#58595b" stroke-width="0.65"/>
<circle cx="184.65" cy="359.70" r="1.5" fill="none" stroke="#58595b" stroke-width="0.65"/>
<circle cx="184.65" cy="361.00" r="1.5" fill="none" stroke="#58595b" stroke-width="0.65"/>
<circle cx="184.65" cy="363.00" r="1.5" fill="none" stroke="#58595b" stroke-width="0.65"/>
<circle cx="184.65" cy="364.30" r="1.5" fill="none" stroke="#58595b" stroke-width="0.65"/>
<rect x="194.40" y="359.10" width="11.20" height="25.90" fill="#2b3b9c" stroke="#231f20" stroke-width="0.8" />
<circle cx="200.00" cy="341.80" r="1.5" fill="none" stroke="#58595b" stroke-width="0.65"/>
<circle cx="200.00" cy="351.30" r="1.5" fill="none" stroke="#58595b" stroke-width="0.65"/>
<circle cx="200.00" cy="354.50" r="1.5" fill="none" stroke="#58595b" stroke-width="0.65"/>
<circle cx="200.00" cy="359.00" r="1.5" fill="none" stroke="#58595b" stroke-width="0.65"/>
<circle cx="200.00" cy="361.00" r="1.5" fill="none" stroke="#58595b" stroke-width="0.65"/>
<circle cx="200.00" cy="363.00" r="1.5" fill="none" stroke="#58595b" stroke-width="0.65"/>
<circle cx="200.00" cy="366.00" r="1.5" fill="none" stroke="#58595b" stroke-width="0.65"/>
<circle cx="200.00" cy="367.80" r="1.5" fill="none" stroke="#58595b" stroke-width="0.65"/>
<rect x="220.40" y="359.10" width="10.60" height="25.90" fill="#e1e1e1" stroke="#231f20" stroke-width="0.8" />
<circle cx="225.70" cy="348.00" r="1.5" fill="none" stroke="#58595b" stroke-width="0.65"/>
<circle cx="225.70" cy="351.30" r="1.5" fill="none" stroke="#58595b" stroke-width="0.65"/>
<circle cx="225.70" cy="355.80" r="1.5" fill="none" stroke="#58595b" stroke-width="0.65"/>
<circle cx="225.70" cy="357.80" r="1.5" fill="none" stroke="#58595b" stroke-width="0.65"/>
<circle cx="225.70" cy="361.70" r="1.5" fill="none" stroke="#58595b" stroke-width="0.65"/>
<circle cx="225.70" cy="364.30" r="1.5" fill="none" stroke="#58595b" stroke-width="0.65"/>
<circle cx="225.70" cy="366.50" r="1.5" fill="none" stroke="#58595b" stroke-width="0.65"/>
<circle cx="225.70" cy="368.80" r="1.5" fill="none" stroke="#58595b" stroke-width="0.65"/>
<rect x="235.90" y="360.60" width="10.90" height="24.40" fill="#2b3b9c" stroke="#231f20" stroke-width="0.8" />
<circle cx="241.35" cy="353.20" r="1.5" fill="none" stroke="#58595b" stroke-width="0.65"/>
<circle cx="241.35" cy="358.10" r="1.5" fill="none" stroke="#58595b" stroke-width="0.65"/>
<circle cx="241.35" cy="359.70" r="1.5" fill="none" stroke="#58595b" stroke-width="0.65"/>
<circle cx="241.35" cy="363.30" r="1.5" fill="none" stroke="#58595b" stroke-width="0.65"/>
<circle cx="241.35" cy="366.60" r="1.5" fill="none" stroke="#58595b" stroke-width="0.65"/>
<circle cx="241.35" cy="376.60" r="1.5" fill="none" stroke="#58595b" stroke-width="0.65"/>
<line x1="174.70" y1="324.00" x2="174.70" y2="385.50" stroke="#231f20" stroke-width="0.9" />
<line x1="171.30" y1="324.40" x2="174.70" y2="324.40" stroke="#231f20" stroke-width="0.9" />
<text x="168.50" y="327.90" font-size="9.8" text-anchor="end" fill="#231f20" font-weight="normal" font-style="normal"  stroke="#231f20" stroke-width="0.200">3</text>
<line x1="171.30" y1="344.60" x2="174.70" y2="344.60" stroke="#231f20" stroke-width="0.9" />
<text x="168.50" y="348.10" font-size="9.8" text-anchor="end" fill="#231f20" font-weight="normal" font-style="normal"  stroke="#231f20" stroke-width="0.200">2</text>
<line x1="171.30" y1="364.80" x2="174.70" y2="364.80" stroke="#231f20" stroke-width="0.9" />
<text x="168.50" y="368.30" font-size="9.8" text-anchor="end" fill="#231f20" font-weight="normal" font-style="normal"  stroke="#231f20" stroke-width="0.200">1</text>
<line x1="171.30" y1="385.00" x2="174.70" y2="385.00" stroke="#231f20" stroke-width="0.9" />
<text x="168.50" y="388.50" font-size="9.8" text-anchor="end" fill="#231f20" font-weight="normal" font-style="normal"  stroke="#231f20" stroke-width="0.200">0</text>
<line x1="174.70" y1="385.00" x2="251.60" y2="385.00" stroke="#231f20" stroke-width="0.9" />
<line x1="192.50" y1="385.00" x2="192.50" y2="388.40" stroke="#231f20" stroke-width="0.9" />
<line x1="233.50" y1="385.00" x2="233.50" y2="388.40" stroke="#231f20" stroke-width="0.9" />
<text x="191.90" y="399.80" font-size="10.0" text-anchor="middle" fill="#231f20" font-weight="normal" font-style="normal" textLength="20.00" lengthAdjust="spacingAndGlyphs"  stroke="#231f20" stroke-width="0.200">OFF</text>
<text x="231.10" y="399.80" font-size="10.0" text-anchor="middle" fill="#231f20" font-weight="normal" font-style="normal" textLength="14.80" lengthAdjust="spacingAndGlyphs"  stroke="#231f20" stroke-width="0.200">ON</text>
<text transform="translate(160.20,354.70) rotate(-90)" x="0" y="0" font-size="9.2" text-anchor="middle" fill="#231f20" font-weight="normal" font-style="normal" textLength="82.00" lengthAdjust="spacingAndGlyphs" stroke="#231f20" stroke-width="0.200">Initiation Latency (s)</text>
<rect x="266.40" y="333.30" width="8.30" height="5.30" fill="#e1e1e1" stroke="#6d6e71" stroke-width="0.7" />
<rect x="266.40" y="341.60" width="8.30" height="5.30" fill="#2b3b9c" stroke="#6d6e71" stroke-width="0.7" />
<text x="277.60" y="338.50" font-size="7.6" text-anchor="start" fill="#6d6e71" font-weight="normal" font-style="normal"  stroke="#6d6e71" stroke-width="0.169">GFP</text>
<text x="277.60" y="346.70" font-size="7.6" text-anchor="start" fill="#6d6e71" font-weight="normal" font-style="normal"  stroke="#6d6e71" stroke-width="0.169">NpHR</text>
<text x="314.80" y="358.10" font-size="6.75" text-anchor="end" fill="#231f20" font-weight="bold" font-style="italic"  stroke="#231f20" stroke-width="0.150">RM-2w ANOVA</text>
<text x="314.80" y="366.20" font-size="6.75" text-anchor="end" fill="#231f20" font-weight="normal" font-style="normal"  stroke="#231f20" stroke-width="0.150">Session p = 0.67</text>
<text x="314.80" y="374.10" font-size="6.75" text-anchor="end" fill="#231f20" font-weight="normal" font-style="normal"  stroke="#231f20" stroke-width="0.150">Virus p = 0.73</text>
<text x="314.80" y="382.10" font-size="6.75" text-anchor="end" fill="#231f20" font-weight="normal" font-style="normal"  stroke="#231f20" stroke-width="0.150">Interaction p = 0.55</text>
<text x="142.40" y="416.90" font-size="8.9" text-anchor="start" fill="#231f20" font-weight="normal" font-style="normal" textLength="33.10" lengthAdjust="spacingAndGlyphs"  stroke="#231f20" stroke-width="0.198">Sessions</text>
<line x1="180.20" y1="407.20" x2="180.20" y2="420.60" stroke="#231f20" stroke-width="1.0" />
<text x="183.70" y="412.60" font-size="8.8" text-anchor="start" fill="#231f20" font-weight="normal" font-style="normal" textLength="58.20" lengthAdjust="spacingAndGlyphs"  stroke="#231f20" stroke-width="0.196">Outcome epoch</text>
<text x="212.80" y="421.70" font-size="8.8" text-anchor="middle" fill="#231f20" font-weight="normal" font-style="normal" textLength="41.40" lengthAdjust="spacingAndGlyphs"  stroke="#231f20" stroke-width="0.196">Illumination</text>
<rect x="542.30" y="359.10" width="10.40" height="26.90" fill="#e1e1e1" stroke="#231f20" stroke-width="0.8" />
<circle cx="547.50" cy="340.90" r="1.5" fill="none" stroke="#58595b" stroke-width="0.65"/>
<circle cx="547.50" cy="352.50" r="1.5" fill="none" stroke="#58595b" stroke-width="0.65"/>
<circle cx="547.50" cy="354.80" r="1.5" fill="none" stroke="#58595b" stroke-width="0.65"/>
<circle cx="547.50" cy="360.00" r="1.5" fill="none" stroke="#58595b" stroke-width="0.65"/>
<circle cx="547.50" cy="362.30" r="1.5" fill="none" stroke="#58595b" stroke-width="0.65"/>
<circle cx="547.50" cy="364.60" r="1.5" fill="none" stroke="#58595b" stroke-width="0.65"/>
<circle cx="547.50" cy="366.50" r="1.5" fill="none" stroke="#58595b" stroke-width="0.65"/>
<rect x="557.80" y="358.20" width="10.60" height="27.80" fill="#f5a02a" stroke="#231f20" stroke-width="0.8" />
<circle cx="563.10" cy="343.00" r="1.5" fill="none" stroke="#58595b" stroke-width="0.65"/>
<circle cx="563.10" cy="349.70" r="1.5" fill="none" stroke="#58595b" stroke-width="0.65"/>
<circle cx="563.10" cy="351.90" r="1.5" fill="none" stroke="#58595b" stroke-width="0.65"/>
<circle cx="563.10" cy="354.80" r="1.5" fill="none" stroke="#58595b" stroke-width="0.65"/>
<circle cx="563.10" cy="361.00" r="1.5" fill="none" stroke="#58595b" stroke-width="0.65"/>
<circle cx="563.10" cy="365.20" r="1.5" fill="none" stroke="#58595b" stroke-width="0.65"/>
<circle cx="563.10" cy="369.50" r="1.5" fill="none" stroke="#58595b" stroke-width="0.65"/>
<rect x="583.60" y="359.10" width="10.40" height="26.90" fill="#e1e1e1" stroke="#231f20" stroke-width="0.8" />
<circle cx="588.80" cy="352.50" r="1.5" fill="none" stroke="#58595b" stroke-width="0.65"/>
<circle cx="588.80" cy="354.80" r="1.5" fill="none" stroke="#58595b" stroke-width="0.65"/>
<circle cx="588.80" cy="357.60" r="1.5" fill="none" stroke="#58595b" stroke-width="0.65"/>
<circle cx="588.80" cy="361.40" r="1.5" fill="none" stroke="#58595b" stroke-width="0.65"/>
<circle cx="588.80" cy="363.90" r="1.5" fill="none" stroke="#58595b" stroke-width="0.65"/>
<circle cx="588.80" cy="366.50" r="1.5" fill="none" stroke="#58595b" stroke-width="0.65"/>
<rect x="599.10" y="352.30" width="10.40" height="33.70" fill="#f5a02a" stroke="#231f20" stroke-width="0.8" />
<circle cx="604.30" cy="330.70" r="1.5" fill="none" stroke="#58595b" stroke-width="0.65"/>
<circle cx="604.30" cy="336.40" r="1.5" fill="none" stroke="#58595b" stroke-width="0.65"/>
<circle cx="604.30" cy="339.60" r="1.5" fill="none" stroke="#58595b" stroke-width="0.65"/>
<circle cx="604.30" cy="348.10" r="1.5" fill="none" stroke="#58595b" stroke-width="0.65"/>
<circle cx="604.30" cy="354.80" r="1.5" fill="none" stroke="#58595b" stroke-width="0.65"/>
<circle cx="604.30" cy="359.50" r="1.5" fill="none" stroke="#58595b" stroke-width="0.65"/>
<circle cx="604.30" cy="362.30" r="1.5" fill="none" stroke="#58595b" stroke-width="0.65"/>
<circle cx="604.30" cy="364.60" r="1.5" fill="none" stroke="#58595b" stroke-width="0.65"/>
<line x1="537.10" y1="324.10" x2="537.10" y2="386.50" stroke="#231f20" stroke-width="0.9" />
<line x1="533.70" y1="324.50" x2="537.10" y2="324.50" stroke="#231f20" stroke-width="0.9" />
<text x="530.90" y="328.00" font-size="9.8" text-anchor="end" fill="#231f20" font-weight="normal" font-style="normal"  stroke="#231f20" stroke-width="0.200">3</text>
<line x1="533.70" y1="345.00" x2="537.10" y2="345.00" stroke="#231f20" stroke-width="0.9" />
<text x="530.90" y="348.50" font-size="9.8" text-anchor="end" fill="#231f20" font-weight="normal" font-style="normal"  stroke="#231f20" stroke-width="0.200">2</text>
<line x1="533.70" y1="365.50" x2="537.10" y2="365.50" stroke="#231f20" stroke-width="0.9" />
<text x="530.90" y="369.00" font-size="9.8" text-anchor="end" fill="#231f20" font-weight="normal" font-style="normal"  stroke="#231f20" stroke-width="0.200">1</text>
<line x1="533.70" y1="386.00" x2="537.10" y2="386.00" stroke="#231f20" stroke-width="0.9" />
<text x="530.90" y="389.50" font-size="9.8" text-anchor="end" fill="#231f20" font-weight="normal" font-style="normal"  stroke="#231f20" stroke-width="0.200">0</text>
<line x1="537.10" y1="386.00" x2="614.30" y2="386.00" stroke="#231f20" stroke-width="0.9" />
<line x1="554.60" y1="386.00" x2="554.60" y2="389.40" stroke="#231f20" stroke-width="0.9" />
<line x1="596.30" y1="386.00" x2="596.30" y2="389.40" stroke="#231f20" stroke-width="0.9" />
<text x="555.50" y="400.10" font-size="10.0" text-anchor="middle" fill="#231f20" font-weight="normal" font-style="normal" textLength="20.00" lengthAdjust="spacingAndGlyphs"  stroke="#231f20" stroke-width="0.200">OFF</text>
<text x="593.80" y="400.10" font-size="10.0" text-anchor="middle" fill="#231f20" font-weight="normal" font-style="normal" textLength="14.80" lengthAdjust="spacingAndGlyphs"  stroke="#231f20" stroke-width="0.200">ON</text>
<text transform="translate(521.60,355.50) rotate(-90)" x="0" y="0" font-size="9.2" text-anchor="middle" fill="#231f20" font-weight="normal" font-style="normal" textLength="82.00" lengthAdjust="spacingAndGlyphs" stroke="#231f20" stroke-width="0.200">Initiation Latency (s)</text>
<rect x="630.50" y="337.10" width="8.30" height="5.30" fill="#e1e1e1" stroke="#6d6e71" stroke-width="0.7" />
<rect x="630.50" y="345.40" width="8.30" height="5.30" fill="#f5a02a" stroke="#6d6e71" stroke-width="0.7" />
<text x="641.70" y="342.30" font-size="7.6" text-anchor="start" fill="#6d6e71" font-weight="normal" font-style="normal"  stroke="#6d6e71" stroke-width="0.169">GFP</text>
<text x="641.70" y="350.50" font-size="7.6" text-anchor="start" fill="#6d6e71" font-weight="normal" font-style="normal"  stroke="#6d6e71" stroke-width="0.169">NpHR</text>
<text x="674.40" y="361.90" font-size="6.05" text-anchor="end" fill="#231f20" font-weight="bold" font-style="italic"  stroke="#231f20" stroke-width="0.134">RM-2w ANOVA</text>
<text x="674.40" y="369.30" font-size="6.05" text-anchor="end" fill="#231f20" font-weight="normal" font-style="italic"  stroke="#231f20" stroke-width="0.134">Session *p = 0.04</text>
<text x="674.40" y="376.40" font-size="6.05" text-anchor="end" fill="#231f20" font-weight="normal" font-style="italic"  stroke="#231f20" stroke-width="0.134">Virus p = 0.29</text>
<text x="674.40" y="383.90" font-size="6.05" text-anchor="end" fill="#231f20" font-weight="normal" font-style="italic"  stroke="#231f20" stroke-width="0.134">Interaction *p = 0.02</text>
<text x="502.60" y="416.30" font-size="8.9" text-anchor="start" fill="#231f20" font-weight="normal" font-style="normal" textLength="33.10" lengthAdjust="spacingAndGlyphs"  stroke="#231f20" stroke-width="0.198">Sessions</text>
<line x1="542.00" y1="407.20" x2="542.00" y2="420.60" stroke="#231f20" stroke-width="1.0" />
<text x="545.80" y="412.40" font-size="8.8" text-anchor="start" fill="#231f20" font-weight="normal" font-style="normal" textLength="58.20" lengthAdjust="spacingAndGlyphs"  stroke="#231f20" stroke-width="0.196">Outcome epoch</text>
<text x="574.90" y="422.00" font-size="8.8" text-anchor="middle" fill="#231f20" font-weight="normal" font-style="normal" textLength="41.40" lengthAdjust="spacingAndGlyphs"  stroke="#231f20" stroke-width="0.196">Illumination</text>
<polyline points="562.8,336.7 562.8,323.1 604.9,323.1 604.9,327.4" fill="none" stroke="#808285" stroke-width="1.0"/>
<text x="583.80" y="325.60" font-size="15.4" text-anchor="middle" fill="#231f20" font-weight="bold" font-style="normal"  stroke="#231f20" stroke-width="0.200">**</text>
</svg></body></html>
